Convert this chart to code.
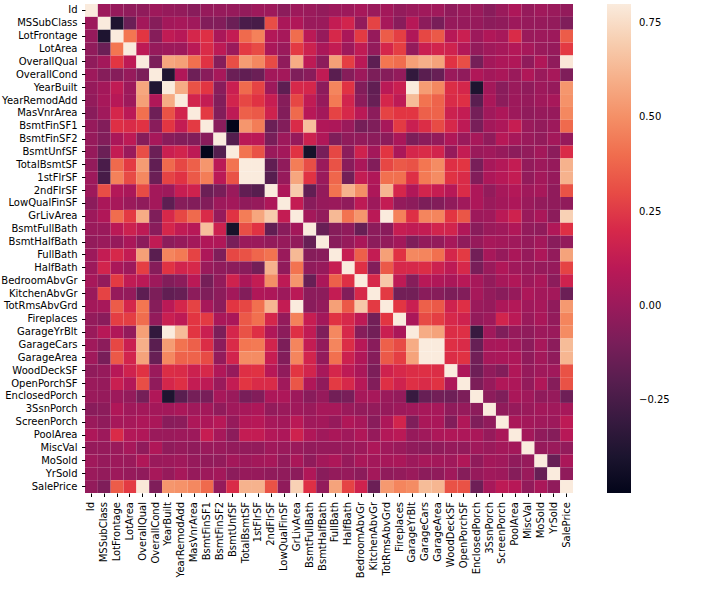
{"width":488,"height":489,"padding":{"left":85,"top":4,"right":138,"bottom":97},"autosize":{"type":"none"},"background":"white","config":{"view":{"stroke":null},"font":"DejaVu Sans"},"data":{"values":[
{"x":"Id","y":"Id","r":1},{"x":"MSSubClass","y":"Id","r":0.01},{"x":"LotFrontage","y":"Id","r":-0.01},{"x":"LotArea","y":"Id","r":-0.03},{"x":"OverallQual","y":"Id","r":-0.03},{"x":"OverallCond","y":"Id","r":0.01},{"x":"YearBuilt","y":"Id","r":-0.01},{"x":"YearRemodAdd","y":"Id","r":-0.02},{"x":"MasVnrArea","y":"Id","r":-0.05},{"x":"BsmtFinSF1","y":"Id","r":-0.01},{"x":"BsmtFinSF2","y":"Id","r":-0.01},{"x":"BsmtUnfSF","y":"Id","r":-0.01},{"x":"TotalBsmtSF","y":"Id","r":-0.02},{"x":"1stFlrSF","y":"Id","r":0.01},{"x":"2ndFlrSF","y":"Id","r":0.01},{"x":"LowQualFinSF","y":"Id","r":-0.04},{"x":"GrLivArea","y":"Id","r":0.01},{"x":"BsmtFullBath","y":"Id","r":0},{"x":"BsmtHalfBath","y":"Id","r":-0.02},{"x":"FullBath","y":"Id","r":0.01},{"x":"HalfBath","y":"Id","r":0.01},{"x":"BedroomAbvGr","y":"Id","r":0.04},{"x":"KitchenAbvGr","y":"Id","r":0},{"x":"TotRmsAbvGrd","y":"Id","r":0.03},{"x":"Fireplaces","y":"Id","r":-0.02},{"x":"GarageYrBlt","y":"Id","r":0},{"x":"GarageCars","y":"Id","r":0.02},{"x":"GarageArea","y":"Id","r":0.02},{"x":"WoodDeckSF","y":"Id","r":-0.03},{"x":"OpenPorchSF","y":"Id","r":0},{"x":"EnclosedPorch","y":"Id","r":0},{"x":"3SsnPorch","y":"Id","r":-0.05},{"x":"ScreenPorch","y":"Id","r":0},{"x":"PoolArea","y":"Id","r":0.06},{"x":"MiscVal","y":"Id","r":-0.01},{"x":"MoSold","y":"Id","r":0.02},{"x":"YrSold","y":"Id","r":0},{"x":"SalePrice","y":"Id","r":-0.02},
{"x":"Id","y":"MSSubClass","r":0.01},{"x":"MSSubClass","y":"MSSubClass","r":1},{"x":"LotFrontage","y":"MSSubClass","r":-0.39},{"x":"LotArea","y":"MSSubClass","r":-0.14},{"x":"OverallQual","y":"MSSubClass","r":0.03},{"x":"OverallCond","y":"MSSubClass","r":-0.06},{"x":"YearBuilt","y":"MSSubClass","r":0.03},{"x":"YearRemodAdd","y":"MSSubClass","r":0.04},{"x":"MasVnrArea","y":"MSSubClass","r":0.02},{"x":"BsmtFinSF1","y":"MSSubClass","r":-0.07},{"x":"BsmtFinSF2","y":"MSSubClass","r":-0.07},{"x":"BsmtUnfSF","y":"MSSubClass","r":-0.14},{"x":"TotalBsmtSF","y":"MSSubClass","r":-0.24},{"x":"1stFlrSF","y":"MSSubClass","r":-0.25},{"x":"2ndFlrSF","y":"MSSubClass","r":0.31},{"x":"LowQualFinSF","y":"MSSubClass","r":0.05},{"x":"GrLivArea","y":"MSSubClass","r":0.07},{"x":"BsmtFullBath","y":"MSSubClass","r":0},{"x":"BsmtHalfBath","y":"MSSubClass","r":0},{"x":"FullBath","y":"MSSubClass","r":0.13},{"x":"HalfBath","y":"MSSubClass","r":0.18},{"x":"BedroomAbvGr","y":"MSSubClass","r":-0.02},{"x":"KitchenAbvGr","y":"MSSubClass","r":0.28},{"x":"TotRmsAbvGrd","y":"MSSubClass","r":0.04},{"x":"Fireplaces","y":"MSSubClass","r":-0.05},{"x":"GarageYrBlt","y":"MSSubClass","r":0.09},{"x":"GarageCars","y":"MSSubClass","r":-0.04},{"x":"GarageArea","y":"MSSubClass","r":-0.1},{"x":"WoodDeckSF","y":"MSSubClass","r":-0.01},{"x":"OpenPorchSF","y":"MSSubClass","r":-0.01},{"x":"EnclosedPorch","y":"MSSubClass","r":-0.01},{"x":"3SsnPorch","y":"MSSubClass","r":-0.04},{"x":"ScreenPorch","y":"MSSubClass","r":-0.03},{"x":"PoolArea","y":"MSSubClass","r":0.01},{"x":"MiscVal","y":"MSSubClass","r":-0.01},{"x":"MoSold","y":"MSSubClass","r":-0.01},{"x":"YrSold","y":"MSSubClass","r":-0.02},{"x":"SalePrice","y":"MSSubClass","r":-0.08},
{"x":"Id","y":"LotFrontage","r":-0.01},{"x":"MSSubClass","y":"LotFrontage","r":-0.39},{"x":"LotFrontage","y":"LotFrontage","r":1},{"x":"LotArea","y":"LotFrontage","r":0.43},{"x":"OverallQual","y":"LotFrontage","r":0.25},{"x":"OverallCond","y":"LotFrontage","r":-0.06},{"x":"YearBuilt","y":"LotFrontage","r":0.12},{"x":"YearRemodAdd","y":"LotFrontage","r":0.09},{"x":"MasVnrArea","y":"LotFrontage","r":0.19},{"x":"BsmtFinSF1","y":"LotFrontage","r":0.23},{"x":"BsmtFinSF2","y":"LotFrontage","r":0.05},{"x":"BsmtUnfSF","y":"LotFrontage","r":0.13},{"x":"TotalBsmtSF","y":"LotFrontage","r":0.39},{"x":"1stFlrSF","y":"LotFrontage","r":0.46},{"x":"2ndFlrSF","y":"LotFrontage","r":0.08},{"x":"LowQualFinSF","y":"LotFrontage","r":0.04},{"x":"GrLivArea","y":"LotFrontage","r":0.4},{"x":"BsmtFullBath","y":"LotFrontage","r":0.1},{"x":"BsmtHalfBath","y":"LotFrontage","r":-0.01},{"x":"FullBath","y":"LotFrontage","r":0.2},{"x":"HalfBath","y":"LotFrontage","r":0.05},{"x":"BedroomAbvGr","y":"LotFrontage","r":0.26},{"x":"KitchenAbvGr","y":"LotFrontage","r":-0.01},{"x":"TotRmsAbvGrd","y":"LotFrontage","r":0.35},{"x":"Fireplaces","y":"LotFrontage","r":0.27},{"x":"GarageYrBlt","y":"LotFrontage","r":0.07},{"x":"GarageCars","y":"LotFrontage","r":0.29},{"x":"GarageArea","y":"LotFrontage","r":0.34},{"x":"WoodDeckSF","y":"LotFrontage","r":0.09},{"x":"OpenPorchSF","y":"LotFrontage","r":0.15},{"x":"EnclosedPorch","y":"LotFrontage","r":0.01},{"x":"3SsnPorch","y":"LotFrontage","r":0.07},{"x":"ScreenPorch","y":"LotFrontage","r":0.04},{"x":"PoolArea","y":"LotFrontage","r":0.21},{"x":"MiscVal","y":"LotFrontage","r":0},{"x":"MoSold","y":"LotFrontage","r":0.01},{"x":"YrSold","y":"LotFrontage","r":0.01},{"x":"SalePrice","y":"LotFrontage","r":0.35},
{"x":"Id","y":"LotArea","r":-0.03},{"x":"MSSubClass","y":"LotArea","r":-0.14},{"x":"LotFrontage","y":"LotArea","r":0.43},{"x":"LotArea","y":"LotArea","r":1},{"x":"OverallQual","y":"LotArea","r":0.11},{"x":"OverallCond","y":"LotArea","r":-0.01},{"x":"YearBuilt","y":"LotArea","r":0.01},{"x":"YearRemodAdd","y":"LotArea","r":0.01},{"x":"MasVnrArea","y":"LotArea","r":0.1},{"x":"BsmtFinSF1","y":"LotArea","r":0.21},{"x":"BsmtFinSF2","y":"LotArea","r":0.11},{"x":"BsmtUnfSF","y":"LotArea","r":0},{"x":"TotalBsmtSF","y":"LotArea","r":0.26},{"x":"1stFlrSF","y":"LotArea","r":0.3},{"x":"2ndFlrSF","y":"LotArea","r":0.05},{"x":"LowQualFinSF","y":"LotArea","r":0},{"x":"GrLivArea","y":"LotArea","r":0.26},{"x":"BsmtFullBath","y":"LotArea","r":0.16},{"x":"BsmtHalfBath","y":"LotArea","r":0.05},{"x":"FullBath","y":"LotArea","r":0.13},{"x":"HalfBath","y":"LotArea","r":0.01},{"x":"BedroomAbvGr","y":"LotArea","r":0.12},{"x":"KitchenAbvGr","y":"LotArea","r":-0.02},{"x":"TotRmsAbvGrd","y":"LotArea","r":0.19},{"x":"Fireplaces","y":"LotArea","r":0.27},{"x":"GarageYrBlt","y":"LotArea","r":-0.02},{"x":"GarageCars","y":"LotArea","r":0.15},{"x":"GarageArea","y":"LotArea","r":0.18},{"x":"WoodDeckSF","y":"LotArea","r":0.17},{"x":"OpenPorchSF","y":"LotArea","r":0.08},{"x":"EnclosedPorch","y":"LotArea","r":-0.02},{"x":"3SsnPorch","y":"LotArea","r":0.02},{"x":"ScreenPorch","y":"LotArea","r":0.04},{"x":"PoolArea","y":"LotArea","r":0.08},{"x":"MiscVal","y":"LotArea","r":0.04},{"x":"MoSold","y":"LotArea","r":0},{"x":"YrSold","y":"LotArea","r":-0.01},{"x":"SalePrice","y":"LotArea","r":0.26},
{"x":"Id","y":"OverallQual","r":-0.03},{"x":"MSSubClass","y":"OverallQual","r":0.03},{"x":"LotFrontage","y":"OverallQual","r":0.25},{"x":"LotArea","y":"OverallQual","r":0.11},{"x":"OverallQual","y":"OverallQual","r":1},{"x":"OverallCond","y":"OverallQual","r":-0.09},{"x":"YearBuilt","y":"OverallQual","r":0.57},{"x":"YearRemodAdd","y":"OverallQual","r":0.55},{"x":"MasVnrArea","y":"OverallQual","r":0.41},{"x":"BsmtFinSF1","y":"OverallQual","r":0.24},{"x":"BsmtFinSF2","y":"OverallQual","r":-0.06},{"x":"BsmtUnfSF","y":"OverallQual","r":0.31},{"x":"TotalBsmtSF","y":"OverallQual","r":0.54},{"x":"1stFlrSF","y":"OverallQual","r":0.48},{"x":"2ndFlrSF","y":"OverallQual","r":0.3},{"x":"LowQualFinSF","y":"OverallQual","r":-0.03},{"x":"GrLivArea","y":"OverallQual","r":0.59},{"x":"BsmtFullBath","y":"OverallQual","r":0.11},{"x":"BsmtHalfBath","y":"OverallQual","r":-0.04},{"x":"FullBath","y":"OverallQual","r":0.55},{"x":"HalfBath","y":"OverallQual","r":0.27},{"x":"BedroomAbvGr","y":"OverallQual","r":0.1},{"x":"KitchenAbvGr","y":"OverallQual","r":-0.18},{"x":"TotRmsAbvGrd","y":"OverallQual","r":0.43},{"x":"Fireplaces","y":"OverallQual","r":0.4},{"x":"GarageYrBlt","y":"OverallQual","r":0.55},{"x":"GarageCars","y":"OverallQual","r":0.6},{"x":"GarageArea","y":"OverallQual","r":0.56},{"x":"WoodDeckSF","y":"OverallQual","r":0.24},{"x":"OpenPorchSF","y":"OverallQual","r":0.31},{"x":"EnclosedPorch","y":"OverallQual","r":-0.11},{"x":"3SsnPorch","y":"OverallQual","r":0.03},{"x":"ScreenPorch","y":"OverallQual","r":0.06},{"x":"PoolArea","y":"OverallQual","r":0.07},{"x":"MiscVal","y":"OverallQual","r":-0.03},{"x":"MoSold","y":"OverallQual","r":0.07},{"x":"YrSold","y":"OverallQual","r":-0.03},{"x":"SalePrice","y":"OverallQual","r":0.79},
{"x":"Id","y":"OverallCond","r":0.01},{"x":"MSSubClass","y":"OverallCond","r":-0.06},{"x":"LotFrontage","y":"OverallCond","r":-0.06},{"x":"LotArea","y":"OverallCond","r":-0.01},{"x":"OverallQual","y":"OverallCond","r":-0.09},{"x":"OverallCond","y":"OverallCond","r":1},{"x":"YearBuilt","y":"OverallCond","r":-0.38},{"x":"YearRemodAdd","y":"OverallCond","r":0.07},{"x":"MasVnrArea","y":"OverallCond","r":-0.13},{"x":"BsmtFinSF1","y":"OverallCond","r":-0.05},{"x":"BsmtFinSF2","y":"OverallCond","r":0.04},{"x":"BsmtUnfSF","y":"OverallCond","r":-0.14},{"x":"TotalBsmtSF","y":"OverallCond","r":-0.17},{"x":"1stFlrSF","y":"OverallCond","r":-0.14},{"x":"2ndFlrSF","y":"OverallCond","r":0.03},{"x":"LowQualFinSF","y":"OverallCond","r":0.03},{"x":"GrLivArea","y":"OverallCond","r":-0.08},{"x":"BsmtFullBath","y":"OverallCond","r":-0.05},{"x":"BsmtHalfBath","y":"OverallCond","r":0.12},{"x":"FullBath","y":"OverallCond","r":-0.19},{"x":"HalfBath","y":"OverallCond","r":-0.06},{"x":"BedroomAbvGr","y":"OverallCond","r":0.01},{"x":"KitchenAbvGr","y":"OverallCond","r":-0.09},{"x":"TotRmsAbvGrd","y":"OverallCond","r":-0.06},{"x":"Fireplaces","y":"OverallCond","r":-0.02},{"x":"GarageYrBlt","y":"OverallCond","r":-0.32},{"x":"GarageCars","y":"OverallCond","r":-0.19},{"x":"GarageArea","y":"OverallCond","r":-0.15},{"x":"WoodDeckSF","y":"OverallCond","r":0},{"x":"OpenPorchSF","y":"OverallCond","r":-0.03},{"x":"EnclosedPorch","y":"OverallCond","r":0.07},{"x":"3SsnPorch","y":"OverallCond","r":0.03},{"x":"ScreenPorch","y":"OverallCond","r":0.05},{"x":"PoolArea","y":"OverallCond","r":0},{"x":"MiscVal","y":"OverallCond","r":0.07},{"x":"MoSold","y":"OverallCond","r":0},{"x":"YrSold","y":"OverallCond","r":0.04},{"x":"SalePrice","y":"OverallCond","r":-0.08},
{"x":"Id","y":"YearBuilt","r":-0.01},{"x":"MSSubClass","y":"YearBuilt","r":0.03},{"x":"LotFrontage","y":"YearBuilt","r":0.12},{"x":"LotArea","y":"YearBuilt","r":0.01},{"x":"OverallQual","y":"YearBuilt","r":0.57},{"x":"OverallCond","y":"YearBuilt","r":-0.38},{"x":"YearBuilt","y":"YearBuilt","r":1},{"x":"YearRemodAdd","y":"YearBuilt","r":0.59},{"x":"MasVnrArea","y":"YearBuilt","r":0.32},{"x":"BsmtFinSF1","y":"YearBuilt","r":0.25},{"x":"BsmtFinSF2","y":"YearBuilt","r":-0.05},{"x":"BsmtUnfSF","y":"YearBuilt","r":0.15},{"x":"TotalBsmtSF","y":"YearBuilt","r":0.39},{"x":"1stFlrSF","y":"YearBuilt","r":0.28},{"x":"2ndFlrSF","y":"YearBuilt","r":0.01},{"x":"LowQualFinSF","y":"YearBuilt","r":-0.18},{"x":"GrLivArea","y":"YearBuilt","r":0.2},{"x":"BsmtFullBath","y":"YearBuilt","r":0.19},{"x":"BsmtHalfBath","y":"YearBuilt","r":-0.04},{"x":"FullBath","y":"YearBuilt","r":0.47},{"x":"HalfBath","y":"YearBuilt","r":0.24},{"x":"BedroomAbvGr","y":"YearBuilt","r":-0.07},{"x":"KitchenAbvGr","y":"YearBuilt","r":-0.17},{"x":"TotRmsAbvGrd","y":"YearBuilt","r":0.1},{"x":"Fireplaces","y":"YearBuilt","r":0.15},{"x":"GarageYrBlt","y":"YearBuilt","r":0.83},{"x":"GarageCars","y":"YearBuilt","r":0.54},{"x":"GarageArea","y":"YearBuilt","r":0.48},{"x":"WoodDeckSF","y":"YearBuilt","r":0.22},{"x":"OpenPorchSF","y":"YearBuilt","r":0.19},{"x":"EnclosedPorch","y":"YearBuilt","r":-0.39},{"x":"3SsnPorch","y":"YearBuilt","r":0.03},{"x":"ScreenPorch","y":"YearBuilt","r":-0.05},{"x":"PoolArea","y":"YearBuilt","r":0},{"x":"MiscVal","y":"YearBuilt","r":-0.03},{"x":"MoSold","y":"YearBuilt","r":0.01},{"x":"YrSold","y":"YearBuilt","r":-0.01},{"x":"SalePrice","y":"YearBuilt","r":0.52},
{"x":"Id","y":"YearRemodAdd","r":-0.02},{"x":"MSSubClass","y":"YearRemodAdd","r":0.04},{"x":"LotFrontage","y":"YearRemodAdd","r":0.09},{"x":"LotArea","y":"YearRemodAdd","r":0.01},{"x":"OverallQual","y":"YearRemodAdd","r":0.55},{"x":"OverallCond","y":"YearRemodAdd","r":0.07},{"x":"YearBuilt","y":"YearRemodAdd","r":0.59},{"x":"YearRemodAdd","y":"YearRemodAdd","r":1},{"x":"MasVnrArea","y":"YearRemodAdd","r":0.18},{"x":"BsmtFinSF1","y":"YearRemodAdd","r":0.13},{"x":"BsmtFinSF2","y":"YearRemodAdd","r":-0.07},{"x":"BsmtUnfSF","y":"YearRemodAdd","r":0.18},{"x":"TotalBsmtSF","y":"YearRemodAdd","r":0.29},{"x":"1stFlrSF","y":"YearRemodAdd","r":0.24},{"x":"2ndFlrSF","y":"YearRemodAdd","r":0.14},{"x":"LowQualFinSF","y":"YearRemodAdd","r":-0.06},{"x":"GrLivArea","y":"YearRemodAdd","r":0.29},{"x":"BsmtFullBath","y":"YearRemodAdd","r":0.12},{"x":"BsmtHalfBath","y":"YearRemodAdd","r":-0.01},{"x":"FullBath","y":"YearRemodAdd","r":0.44},{"x":"HalfBath","y":"YearRemodAdd","r":0.18},{"x":"BedroomAbvGr","y":"YearRemodAdd","r":-0.04},{"x":"KitchenAbvGr","y":"YearRemodAdd","r":-0.15},{"x":"TotRmsAbvGrd","y":"YearRemodAdd","r":0.19},{"x":"Fireplaces","y":"YearRemodAdd","r":0.11},{"x":"GarageYrBlt","y":"YearRemodAdd","r":0.64},{"x":"GarageCars","y":"YearRemodAdd","r":0.42},{"x":"GarageArea","y":"YearRemodAdd","r":0.37},{"x":"WoodDeckSF","y":"YearRemodAdd","r":0.21},{"x":"OpenPorchSF","y":"YearRemodAdd","r":0.23},{"x":"EnclosedPorch","y":"YearRemodAdd","r":-0.19},{"x":"3SsnPorch","y":"YearRemodAdd","r":0.05},{"x":"ScreenPorch","y":"YearRemodAdd","r":-0.04},{"x":"PoolArea","y":"YearRemodAdd","r":0.01},{"x":"MiscVal","y":"YearRemodAdd","r":-0.01},{"x":"MoSold","y":"YearRemodAdd","r":0.02},{"x":"YrSold","y":"YearRemodAdd","r":0.04},{"x":"SalePrice","y":"YearRemodAdd","r":0.51},
{"x":"Id","y":"MasVnrArea","r":-0.05},{"x":"MSSubClass","y":"MasVnrArea","r":0.02},{"x":"LotFrontage","y":"MasVnrArea","r":0.19},{"x":"LotArea","y":"MasVnrArea","r":0.1},{"x":"OverallQual","y":"MasVnrArea","r":0.41},{"x":"OverallCond","y":"MasVnrArea","r":-0.13},{"x":"YearBuilt","y":"MasVnrArea","r":0.32},{"x":"YearRemodAdd","y":"MasVnrArea","r":0.18},{"x":"MasVnrArea","y":"MasVnrArea","r":1},{"x":"BsmtFinSF1","y":"MasVnrArea","r":0.26},{"x":"BsmtFinSF2","y":"MasVnrArea","r":-0.07},{"x":"BsmtUnfSF","y":"MasVnrArea","r":0.11},{"x":"TotalBsmtSF","y":"MasVnrArea","r":0.36},{"x":"1stFlrSF","y":"MasVnrArea","r":0.34},{"x":"2ndFlrSF","y":"MasVnrArea","r":0.17},{"x":"LowQualFinSF","y":"MasVnrArea","r":-0.07},{"x":"GrLivArea","y":"MasVnrArea","r":0.39},{"x":"BsmtFullBath","y":"MasVnrArea","r":0.09},{"x":"BsmtHalfBath","y":"MasVnrArea","r":0.03},{"x":"FullBath","y":"MasVnrArea","r":0.28},{"x":"HalfBath","y":"MasVnrArea","r":0.2},{"x":"BedroomAbvGr","y":"MasVnrArea","r":0.1},{"x":"KitchenAbvGr","y":"MasVnrArea","r":-0.04},{"x":"TotRmsAbvGrd","y":"MasVnrArea","r":0.28},{"x":"Fireplaces","y":"MasVnrArea","r":0.25},{"x":"GarageYrBlt","y":"MasVnrArea","r":0.25},{"x":"GarageCars","y":"MasVnrArea","r":0.36},{"x":"GarageArea","y":"MasVnrArea","r":0.37},{"x":"WoodDeckSF","y":"MasVnrArea","r":0.16},{"x":"OpenPorchSF","y":"MasVnrArea","r":0.13},{"x":"EnclosedPorch","y":"MasVnrArea","r":-0.11},{"x":"3SsnPorch","y":"MasVnrArea","r":0.02},{"x":"ScreenPorch","y":"MasVnrArea","r":0.06},{"x":"PoolArea","y":"MasVnrArea","r":0.01},{"x":"MiscVal","y":"MasVnrArea","r":-0.03},{"x":"MoSold","y":"MasVnrArea","r":-0.01},{"x":"YrSold","y":"MasVnrArea","r":-0.01},{"x":"SalePrice","y":"MasVnrArea","r":0.48},
{"x":"Id","y":"BsmtFinSF1","r":-0.01},{"x":"MSSubClass","y":"BsmtFinSF1","r":-0.07},{"x":"LotFrontage","y":"BsmtFinSF1","r":0.23},{"x":"LotArea","y":"BsmtFinSF1","r":0.21},{"x":"OverallQual","y":"BsmtFinSF1","r":0.24},{"x":"OverallCond","y":"BsmtFinSF1","r":-0.05},{"x":"YearBuilt","y":"BsmtFinSF1","r":0.25},{"x":"YearRemodAdd","y":"BsmtFinSF1","r":0.13},{"x":"MasVnrArea","y":"BsmtFinSF1","r":0.26},{"x":"BsmtFinSF1","y":"BsmtFinSF1","r":1},{"x":"BsmtFinSF2","y":"BsmtFinSF1","r":-0.05},{"x":"BsmtUnfSF","y":"BsmtFinSF1","r":-0.5},{"x":"TotalBsmtSF","y":"BsmtFinSF1","r":0.52},{"x":"1stFlrSF","y":"BsmtFinSF1","r":0.45},{"x":"2ndFlrSF","y":"BsmtFinSF1","r":-0.14},{"x":"LowQualFinSF","y":"BsmtFinSF1","r":-0.07},{"x":"GrLivArea","y":"BsmtFinSF1","r":0.21},{"x":"BsmtFullBath","y":"BsmtFinSF1","r":0.65},{"x":"BsmtHalfBath","y":"BsmtFinSF1","r":0.07},{"x":"FullBath","y":"BsmtFinSF1","r":0.06},{"x":"HalfBath","y":"BsmtFinSF1","r":0},{"x":"BedroomAbvGr","y":"BsmtFinSF1","r":-0.11},{"x":"KitchenAbvGr","y":"BsmtFinSF1","r":-0.08},{"x":"TotRmsAbvGrd","y":"BsmtFinSF1","r":0.04},{"x":"Fireplaces","y":"BsmtFinSF1","r":0.26},{"x":"GarageYrBlt","y":"BsmtFinSF1","r":0.15},{"x":"GarageCars","y":"BsmtFinSF1","r":0.22},{"x":"GarageArea","y":"BsmtFinSF1","r":0.3},{"x":"WoodDeckSF","y":"BsmtFinSF1","r":0.2},{"x":"OpenPorchSF","y":"BsmtFinSF1","r":0.11},{"x":"EnclosedPorch","y":"BsmtFinSF1","r":-0.1},{"x":"3SsnPorch","y":"BsmtFinSF1","r":0.03},{"x":"ScreenPorch","y":"BsmtFinSF1","r":0.06},{"x":"PoolArea","y":"BsmtFinSF1","r":0.14},{"x":"MiscVal","y":"BsmtFinSF1","r":0},{"x":"MoSold","y":"BsmtFinSF1","r":-0.02},{"x":"YrSold","y":"BsmtFinSF1","r":0.01},{"x":"SalePrice","y":"BsmtFinSF1","r":0.39},
{"x":"Id","y":"BsmtFinSF2","r":-0.01},{"x":"MSSubClass","y":"BsmtFinSF2","r":-0.07},{"x":"LotFrontage","y":"BsmtFinSF2","r":0.05},{"x":"LotArea","y":"BsmtFinSF2","r":0.11},{"x":"OverallQual","y":"BsmtFinSF2","r":-0.06},{"x":"OverallCond","y":"BsmtFinSF2","r":0.04},{"x":"YearBuilt","y":"BsmtFinSF2","r":-0.05},{"x":"YearRemodAdd","y":"BsmtFinSF2","r":-0.07},{"x":"MasVnrArea","y":"BsmtFinSF2","r":-0.07},{"x":"BsmtFinSF1","y":"BsmtFinSF2","r":-0.05},{"x":"BsmtFinSF2","y":"BsmtFinSF2","r":1},{"x":"BsmtUnfSF","y":"BsmtFinSF2","r":-0.21},{"x":"TotalBsmtSF","y":"BsmtFinSF2","r":0.1},{"x":"1stFlrSF","y":"BsmtFinSF2","r":0.1},{"x":"2ndFlrSF","y":"BsmtFinSF2","r":-0.1},{"x":"LowQualFinSF","y":"BsmtFinSF2","r":0.01},{"x":"GrLivArea","y":"BsmtFinSF2","r":-0.01},{"x":"BsmtFullBath","y":"BsmtFinSF2","r":0.16},{"x":"BsmtHalfBath","y":"BsmtFinSF2","r":0.07},{"x":"FullBath","y":"BsmtFinSF2","r":-0.08},{"x":"HalfBath","y":"BsmtFinSF2","r":-0.03},{"x":"BedroomAbvGr","y":"BsmtFinSF2","r":-0.02},{"x":"KitchenAbvGr","y":"BsmtFinSF2","r":-0.04},{"x":"TotRmsAbvGrd","y":"BsmtFinSF2","r":-0.04},{"x":"Fireplaces","y":"BsmtFinSF2","r":0.05},{"x":"GarageYrBlt","y":"BsmtFinSF2","r":-0.09},{"x":"GarageCars","y":"BsmtFinSF2","r":-0.04},{"x":"GarageArea","y":"BsmtFinSF2","r":-0.02},{"x":"WoodDeckSF","y":"BsmtFinSF2","r":0.07},{"x":"OpenPorchSF","y":"BsmtFinSF2","r":0},{"x":"EnclosedPorch","y":"BsmtFinSF2","r":0.04},{"x":"3SsnPorch","y":"BsmtFinSF2","r":-0.03},{"x":"ScreenPorch","y":"BsmtFinSF2","r":0.09},{"x":"PoolArea","y":"BsmtFinSF2","r":0.04},{"x":"MiscVal","y":"BsmtFinSF2","r":0},{"x":"MoSold","y":"BsmtFinSF2","r":-0.02},{"x":"YrSold","y":"BsmtFinSF2","r":0.03},{"x":"SalePrice","y":"BsmtFinSF2","r":-0.01},
{"x":"Id","y":"BsmtUnfSF","r":-0.01},{"x":"MSSubClass","y":"BsmtUnfSF","r":-0.14},{"x":"LotFrontage","y":"BsmtUnfSF","r":0.13},{"x":"LotArea","y":"BsmtUnfSF","r":0},{"x":"OverallQual","y":"BsmtUnfSF","r":0.31},{"x":"OverallCond","y":"BsmtUnfSF","r":-0.14},{"x":"YearBuilt","y":"BsmtUnfSF","r":0.15},{"x":"YearRemodAdd","y":"BsmtUnfSF","r":0.18},{"x":"MasVnrArea","y":"BsmtUnfSF","r":0.11},{"x":"BsmtFinSF1","y":"BsmtUnfSF","r":-0.5},{"x":"BsmtFinSF2","y":"BsmtUnfSF","r":-0.21},{"x":"BsmtUnfSF","y":"BsmtUnfSF","r":1},{"x":"TotalBsmtSF","y":"BsmtUnfSF","r":0.42},{"x":"1stFlrSF","y":"BsmtUnfSF","r":0.32},{"x":"2ndFlrSF","y":"BsmtUnfSF","r":0},{"x":"LowQualFinSF","y":"BsmtUnfSF","r":0.03},{"x":"GrLivArea","y":"BsmtUnfSF","r":0.24},{"x":"BsmtFullBath","y":"BsmtUnfSF","r":-0.42},{"x":"BsmtHalfBath","y":"BsmtUnfSF","r":-0.1},{"x":"FullBath","y":"BsmtUnfSF","r":0.29},{"x":"HalfBath","y":"BsmtUnfSF","r":-0.04},{"x":"BedroomAbvGr","y":"BsmtUnfSF","r":0.17},{"x":"KitchenAbvGr","y":"BsmtUnfSF","r":0.03},{"x":"TotRmsAbvGrd","y":"BsmtUnfSF","r":0.25},{"x":"Fireplaces","y":"BsmtUnfSF","r":0.05},{"x":"GarageYrBlt","y":"BsmtUnfSF","r":0.19},{"x":"GarageCars","y":"BsmtUnfSF","r":0.21},{"x":"GarageArea","y":"BsmtUnfSF","r":0.18},{"x":"WoodDeckSF","y":"BsmtUnfSF","r":-0.01},{"x":"OpenPorchSF","y":"BsmtUnfSF","r":0.13},{"x":"EnclosedPorch","y":"BsmtUnfSF","r":0},{"x":"3SsnPorch","y":"BsmtUnfSF","r":0.02},{"x":"ScreenPorch","y":"BsmtUnfSF","r":-0.01},{"x":"PoolArea","y":"BsmtUnfSF","r":-0.04},{"x":"MiscVal","y":"BsmtUnfSF","r":-0.02},{"x":"MoSold","y":"BsmtUnfSF","r":0.03},{"x":"YrSold","y":"BsmtUnfSF","r":-0.04},{"x":"SalePrice","y":"BsmtUnfSF","r":0.21},
{"x":"Id","y":"TotalBsmtSF","r":-0.02},{"x":"MSSubClass","y":"TotalBsmtSF","r":-0.24},{"x":"LotFrontage","y":"TotalBsmtSF","r":0.39},{"x":"LotArea","y":"TotalBsmtSF","r":0.26},{"x":"OverallQual","y":"TotalBsmtSF","r":0.54},{"x":"OverallCond","y":"TotalBsmtSF","r":-0.17},{"x":"YearBuilt","y":"TotalBsmtSF","r":0.39},{"x":"YearRemodAdd","y":"TotalBsmtSF","r":0.29},{"x":"MasVnrArea","y":"TotalBsmtSF","r":0.36},{"x":"BsmtFinSF1","y":"TotalBsmtSF","r":0.52},{"x":"BsmtFinSF2","y":"TotalBsmtSF","r":0.1},{"x":"BsmtUnfSF","y":"TotalBsmtSF","r":0.42},{"x":"TotalBsmtSF","y":"TotalBsmtSF","r":1},{"x":"1stFlrSF","y":"TotalBsmtSF","r":0.82},{"x":"2ndFlrSF","y":"TotalBsmtSF","r":-0.17},{"x":"LowQualFinSF","y":"TotalBsmtSF","r":-0.03},{"x":"GrLivArea","y":"TotalBsmtSF","r":0.45},{"x":"BsmtFullBath","y":"TotalBsmtSF","r":0.31},{"x":"BsmtHalfBath","y":"TotalBsmtSF","r":0},{"x":"FullBath","y":"TotalBsmtSF","r":0.32},{"x":"HalfBath","y":"TotalBsmtSF","r":-0.05},{"x":"BedroomAbvGr","y":"TotalBsmtSF","r":0.05},{"x":"KitchenAbvGr","y":"TotalBsmtSF","r":-0.07},{"x":"TotRmsAbvGrd","y":"TotalBsmtSF","r":0.29},{"x":"Fireplaces","y":"TotalBsmtSF","r":0.34},{"x":"GarageYrBlt","y":"TotalBsmtSF","r":0.32},{"x":"GarageCars","y":"TotalBsmtSF","r":0.43},{"x":"GarageArea","y":"TotalBsmtSF","r":0.49},{"x":"WoodDeckSF","y":"TotalBsmtSF","r":0.23},{"x":"OpenPorchSF","y":"TotalBsmtSF","r":0.25},{"x":"EnclosedPorch","y":"TotalBsmtSF","r":-0.1},{"x":"3SsnPorch","y":"TotalBsmtSF","r":0.04},{"x":"ScreenPorch","y":"TotalBsmtSF","r":0.08},{"x":"PoolArea","y":"TotalBsmtSF","r":0.13},{"x":"MiscVal","y":"TotalBsmtSF","r":-0.02},{"x":"MoSold","y":"TotalBsmtSF","r":0.01},{"x":"YrSold","y":"TotalBsmtSF","r":-0.01},{"x":"SalePrice","y":"TotalBsmtSF","r":0.61},
{"x":"Id","y":"1stFlrSF","r":0.01},{"x":"MSSubClass","y":"1stFlrSF","r":-0.25},{"x":"LotFrontage","y":"1stFlrSF","r":0.46},{"x":"LotArea","y":"1stFlrSF","r":0.3},{"x":"OverallQual","y":"1stFlrSF","r":0.48},{"x":"OverallCond","y":"1stFlrSF","r":-0.14},{"x":"YearBuilt","y":"1stFlrSF","r":0.28},{"x":"YearRemodAdd","y":"1stFlrSF","r":0.24},{"x":"MasVnrArea","y":"1stFlrSF","r":0.34},{"x":"BsmtFinSF1","y":"1stFlrSF","r":0.45},{"x":"BsmtFinSF2","y":"1stFlrSF","r":0.1},{"x":"BsmtUnfSF","y":"1stFlrSF","r":0.32},{"x":"TotalBsmtSF","y":"1stFlrSF","r":0.82},{"x":"1stFlrSF","y":"1stFlrSF","r":1},{"x":"2ndFlrSF","y":"1stFlrSF","r":-0.2},{"x":"LowQualFinSF","y":"1stFlrSF","r":-0.01},{"x":"GrLivArea","y":"1stFlrSF","r":0.57},{"x":"BsmtFullBath","y":"1stFlrSF","r":0.24},{"x":"BsmtHalfBath","y":"1stFlrSF","r":0},{"x":"FullBath","y":"1stFlrSF","r":0.38},{"x":"HalfBath","y":"1stFlrSF","r":-0.12},{"x":"BedroomAbvGr","y":"1stFlrSF","r":0.13},{"x":"KitchenAbvGr","y":"1stFlrSF","r":0.07},{"x":"TotRmsAbvGrd","y":"1stFlrSF","r":0.41},{"x":"Fireplaces","y":"1stFlrSF","r":0.41},{"x":"GarageYrBlt","y":"1stFlrSF","r":0.23},{"x":"GarageCars","y":"1stFlrSF","r":0.44},{"x":"GarageArea","y":"1stFlrSF","r":0.49},{"x":"WoodDeckSF","y":"1stFlrSF","r":0.24},{"x":"OpenPorchSF","y":"1stFlrSF","r":0.21},{"x":"EnclosedPorch","y":"1stFlrSF","r":-0.07},{"x":"3SsnPorch","y":"1stFlrSF","r":0.06},{"x":"ScreenPorch","y":"1stFlrSF","r":0.09},{"x":"PoolArea","y":"1stFlrSF","r":0.13},{"x":"MiscVal","y":"1stFlrSF","r":-0.02},{"x":"MoSold","y":"1stFlrSF","r":0.03},{"x":"YrSold","y":"1stFlrSF","r":-0.01},{"x":"SalePrice","y":"1stFlrSF","r":0.61},
{"x":"Id","y":"2ndFlrSF","r":0.01},{"x":"MSSubClass","y":"2ndFlrSF","r":0.31},{"x":"LotFrontage","y":"2ndFlrSF","r":0.08},{"x":"LotArea","y":"2ndFlrSF","r":0.05},{"x":"OverallQual","y":"2ndFlrSF","r":0.3},{"x":"OverallCond","y":"2ndFlrSF","r":0.03},{"x":"YearBuilt","y":"2ndFlrSF","r":0.01},{"x":"YearRemodAdd","y":"2ndFlrSF","r":0.14},{"x":"MasVnrArea","y":"2ndFlrSF","r":0.17},{"x":"BsmtFinSF1","y":"2ndFlrSF","r":-0.14},{"x":"BsmtFinSF2","y":"2ndFlrSF","r":-0.1},{"x":"BsmtUnfSF","y":"2ndFlrSF","r":0},{"x":"TotalBsmtSF","y":"2ndFlrSF","r":-0.17},{"x":"1stFlrSF","y":"2ndFlrSF","r":-0.2},{"x":"2ndFlrSF","y":"2ndFlrSF","r":1},{"x":"LowQualFinSF","y":"2ndFlrSF","r":0.06},{"x":"GrLivArea","y":"2ndFlrSF","r":0.69},{"x":"BsmtFullBath","y":"2ndFlrSF","r":-0.17},{"x":"BsmtHalfBath","y":"2ndFlrSF","r":-0.02},{"x":"FullBath","y":"2ndFlrSF","r":0.42},{"x":"HalfBath","y":"2ndFlrSF","r":0.61},{"x":"BedroomAbvGr","y":"2ndFlrSF","r":0.5},{"x":"KitchenAbvGr","y":"2ndFlrSF","r":0.06},{"x":"TotRmsAbvGrd","y":"2ndFlrSF","r":0.62},{"x":"Fireplaces","y":"2ndFlrSF","r":0.19},{"x":"GarageYrBlt","y":"2ndFlrSF","r":0.07},{"x":"GarageCars","y":"2ndFlrSF","r":0.18},{"x":"GarageArea","y":"2ndFlrSF","r":0.14},{"x":"WoodDeckSF","y":"2ndFlrSF","r":0.09},{"x":"OpenPorchSF","y":"2ndFlrSF","r":0.21},{"x":"EnclosedPorch","y":"2ndFlrSF","r":0.06},{"x":"3SsnPorch","y":"2ndFlrSF","r":-0.02},{"x":"ScreenPorch","y":"2ndFlrSF","r":0.04},{"x":"PoolArea","y":"2ndFlrSF","r":0.08},{"x":"MiscVal","y":"2ndFlrSF","r":0.02},{"x":"MoSold","y":"2ndFlrSF","r":0.04},{"x":"YrSold","y":"2ndFlrSF","r":-0.03},{"x":"SalePrice","y":"2ndFlrSF","r":0.32},
{"x":"Id","y":"LowQualFinSF","r":-0.04},{"x":"MSSubClass","y":"LowQualFinSF","r":0.05},{"x":"LotFrontage","y":"LowQualFinSF","r":0.04},{"x":"LotArea","y":"LowQualFinSF","r":0},{"x":"OverallQual","y":"LowQualFinSF","r":-0.03},{"x":"OverallCond","y":"LowQualFinSF","r":0.03},{"x":"YearBuilt","y":"LowQualFinSF","r":-0.18},{"x":"YearRemodAdd","y":"LowQualFinSF","r":-0.06},{"x":"MasVnrArea","y":"LowQualFinSF","r":-0.07},{"x":"BsmtFinSF1","y":"LowQualFinSF","r":-0.07},{"x":"BsmtFinSF2","y":"LowQualFinSF","r":0.01},{"x":"BsmtUnfSF","y":"LowQualFinSF","r":0.03},{"x":"TotalBsmtSF","y":"LowQualFinSF","r":-0.03},{"x":"1stFlrSF","y":"LowQualFinSF","r":-0.01},{"x":"2ndFlrSF","y":"LowQualFinSF","r":0.06},{"x":"LowQualFinSF","y":"LowQualFinSF","r":1},{"x":"GrLivArea","y":"LowQualFinSF","r":0.13},{"x":"BsmtFullBath","y":"LowQualFinSF","r":-0.05},{"x":"BsmtHalfBath","y":"LowQualFinSF","r":-0.01},{"x":"FullBath","y":"LowQualFinSF","r":0},{"x":"HalfBath","y":"LowQualFinSF","r":-0.03},{"x":"BedroomAbvGr","y":"LowQualFinSF","r":0.11},{"x":"KitchenAbvGr","y":"LowQualFinSF","r":0.01},{"x":"TotRmsAbvGrd","y":"LowQualFinSF","r":0.13},{"x":"Fireplaces","y":"LowQualFinSF","r":-0.02},{"x":"GarageYrBlt","y":"LowQualFinSF","r":-0.04},{"x":"GarageCars","y":"LowQualFinSF","r":-0.09},{"x":"GarageArea","y":"LowQualFinSF","r":-0.07},{"x":"WoodDeckSF","y":"LowQualFinSF","r":-0.03},{"x":"OpenPorchSF","y":"LowQualFinSF","r":0.02},{"x":"EnclosedPorch","y":"LowQualFinSF","r":0.06},{"x":"3SsnPorch","y":"LowQualFinSF","r":0},{"x":"ScreenPorch","y":"LowQualFinSF","r":0.03},{"x":"PoolArea","y":"LowQualFinSF","r":0.06},{"x":"MiscVal","y":"LowQualFinSF","r":0},{"x":"MoSold","y":"LowQualFinSF","r":-0.02},{"x":"YrSold","y":"LowQualFinSF","r":-0.03},{"x":"SalePrice","y":"LowQualFinSF","r":-0.03},
{"x":"Id","y":"GrLivArea","r":0.01},{"x":"MSSubClass","y":"GrLivArea","r":0.07},{"x":"LotFrontage","y":"GrLivArea","r":0.4},{"x":"LotArea","y":"GrLivArea","r":0.26},{"x":"OverallQual","y":"GrLivArea","r":0.59},{"x":"OverallCond","y":"GrLivArea","r":-0.08},{"x":"YearBuilt","y":"GrLivArea","r":0.2},{"x":"YearRemodAdd","y":"GrLivArea","r":0.29},{"x":"MasVnrArea","y":"GrLivArea","r":0.39},{"x":"BsmtFinSF1","y":"GrLivArea","r":0.21},{"x":"BsmtFinSF2","y":"GrLivArea","r":-0.01},{"x":"BsmtUnfSF","y":"GrLivArea","r":0.24},{"x":"TotalBsmtSF","y":"GrLivArea","r":0.45},{"x":"1stFlrSF","y":"GrLivArea","r":0.57},{"x":"2ndFlrSF","y":"GrLivArea","r":0.69},{"x":"LowQualFinSF","y":"GrLivArea","r":0.13},{"x":"GrLivArea","y":"GrLivArea","r":1},{"x":"BsmtFullBath","y":"GrLivArea","r":0.03},{"x":"BsmtHalfBath","y":"GrLivArea","r":-0.02},{"x":"FullBath","y":"GrLivArea","r":0.63},{"x":"HalfBath","y":"GrLivArea","r":0.42},{"x":"BedroomAbvGr","y":"GrLivArea","r":0.52},{"x":"KitchenAbvGr","y":"GrLivArea","r":0.1},{"x":"TotRmsAbvGrd","y":"GrLivArea","r":0.83},{"x":"Fireplaces","y":"GrLivArea","r":0.46},{"x":"GarageYrBlt","y":"GrLivArea","r":0.23},{"x":"GarageCars","y":"GrLivArea","r":0.47},{"x":"GarageArea","y":"GrLivArea","r":0.47},{"x":"WoodDeckSF","y":"GrLivArea","r":0.25},{"x":"OpenPorchSF","y":"GrLivArea","r":0.33},{"x":"EnclosedPorch","y":"GrLivArea","r":0.01},{"x":"3SsnPorch","y":"GrLivArea","r":0.02},{"x":"ScreenPorch","y":"GrLivArea","r":0.1},{"x":"PoolArea","y":"GrLivArea","r":0.17},{"x":"MiscVal","y":"GrLivArea","r":0},{"x":"MoSold","y":"GrLivArea","r":0.05},{"x":"YrSold","y":"GrLivArea","r":-0.04},{"x":"SalePrice","y":"GrLivArea","r":0.71},
{"x":"Id","y":"BsmtFullBath","r":0},{"x":"MSSubClass","y":"BsmtFullBath","r":0},{"x":"LotFrontage","y":"BsmtFullBath","r":0.1},{"x":"LotArea","y":"BsmtFullBath","r":0.16},{"x":"OverallQual","y":"BsmtFullBath","r":0.11},{"x":"OverallCond","y":"BsmtFullBath","r":-0.05},{"x":"YearBuilt","y":"BsmtFullBath","r":0.19},{"x":"YearRemodAdd","y":"BsmtFullBath","r":0.12},{"x":"MasVnrArea","y":"BsmtFullBath","r":0.09},{"x":"BsmtFinSF1","y":"BsmtFullBath","r":0.65},{"x":"BsmtFinSF2","y":"BsmtFullBath","r":0.16},{"x":"BsmtUnfSF","y":"BsmtFullBath","r":-0.42},{"x":"TotalBsmtSF","y":"BsmtFullBath","r":0.31},{"x":"1stFlrSF","y":"BsmtFullBath","r":0.24},{"x":"2ndFlrSF","y":"BsmtFullBath","r":-0.17},{"x":"LowQualFinSF","y":"BsmtFullBath","r":-0.05},{"x":"GrLivArea","y":"BsmtFullBath","r":0.03},{"x":"BsmtFullBath","y":"BsmtFullBath","r":1},{"x":"BsmtHalfBath","y":"BsmtFullBath","r":-0.15},{"x":"FullBath","y":"BsmtFullBath","r":-0.06},{"x":"HalfBath","y":"BsmtFullBath","r":-0.03},{"x":"BedroomAbvGr","y":"BsmtFullBath","r":-0.15},{"x":"KitchenAbvGr","y":"BsmtFullBath","r":-0.04},{"x":"TotRmsAbvGrd","y":"BsmtFullBath","r":-0.05},{"x":"Fireplaces","y":"BsmtFullBath","r":0.14},{"x":"GarageYrBlt","y":"BsmtFullBath","r":0.12},{"x":"GarageCars","y":"BsmtFullBath","r":0.13},{"x":"GarageArea","y":"BsmtFullBath","r":0.18},{"x":"WoodDeckSF","y":"BsmtFullBath","r":0.18},{"x":"OpenPorchSF","y":"BsmtFullBath","r":0.07},{"x":"EnclosedPorch","y":"BsmtFullBath","r":-0.05},{"x":"3SsnPorch","y":"BsmtFullBath","r":0},{"x":"ScreenPorch","y":"BsmtFullBath","r":0.02},{"x":"PoolArea","y":"BsmtFullBath","r":0.07},{"x":"MiscVal","y":"BsmtFullBath","r":-0.02},{"x":"MoSold","y":"BsmtFullBath","r":-0.03},{"x":"YrSold","y":"BsmtFullBath","r":0.07},{"x":"SalePrice","y":"BsmtFullBath","r":0.23},
{"x":"Id","y":"BsmtHalfBath","r":-0.02},{"x":"MSSubClass","y":"BsmtHalfBath","r":0},{"x":"LotFrontage","y":"BsmtHalfBath","r":-0.01},{"x":"LotArea","y":"BsmtHalfBath","r":0.05},{"x":"OverallQual","y":"BsmtHalfBath","r":-0.04},{"x":"OverallCond","y":"BsmtHalfBath","r":0.12},{"x":"YearBuilt","y":"BsmtHalfBath","r":-0.04},{"x":"YearRemodAdd","y":"BsmtHalfBath","r":-0.01},{"x":"MasVnrArea","y":"BsmtHalfBath","r":0.03},{"x":"BsmtFinSF1","y":"BsmtHalfBath","r":0.07},{"x":"BsmtFinSF2","y":"BsmtHalfBath","r":0.07},{"x":"BsmtUnfSF","y":"BsmtHalfBath","r":-0.1},{"x":"TotalBsmtSF","y":"BsmtHalfBath","r":0},{"x":"1stFlrSF","y":"BsmtHalfBath","r":0},{"x":"2ndFlrSF","y":"BsmtHalfBath","r":-0.02},{"x":"LowQualFinSF","y":"BsmtHalfBath","r":-0.01},{"x":"GrLivArea","y":"BsmtHalfBath","r":-0.02},{"x":"BsmtFullBath","y":"BsmtHalfBath","r":-0.15},{"x":"BsmtHalfBath","y":"BsmtHalfBath","r":1},{"x":"FullBath","y":"BsmtHalfBath","r":-0.05},{"x":"HalfBath","y":"BsmtHalfBath","r":-0.01},{"x":"BedroomAbvGr","y":"BsmtHalfBath","r":0.05},{"x":"KitchenAbvGr","y":"BsmtHalfBath","r":-0.04},{"x":"TotRmsAbvGrd","y":"BsmtHalfBath","r":-0.02},{"x":"Fireplaces","y":"BsmtHalfBath","r":0.03},{"x":"GarageYrBlt","y":"BsmtHalfBath","r":-0.08},{"x":"GarageCars","y":"BsmtHalfBath","r":-0.02},{"x":"GarageArea","y":"BsmtHalfBath","r":-0.02},{"x":"WoodDeckSF","y":"BsmtHalfBath","r":0.04},{"x":"OpenPorchSF","y":"BsmtHalfBath","r":-0.03},{"x":"EnclosedPorch","y":"BsmtHalfBath","r":-0.01},{"x":"3SsnPorch","y":"BsmtHalfBath","r":0.04},{"x":"ScreenPorch","y":"BsmtHalfBath","r":0.03},{"x":"PoolArea","y":"BsmtHalfBath","r":0.02},{"x":"MiscVal","y":"BsmtHalfBath","r":-0.01},{"x":"MoSold","y":"BsmtHalfBath","r":0.03},{"x":"YrSold","y":"BsmtHalfBath","r":-0.05},{"x":"SalePrice","y":"BsmtHalfBath","r":-0.02},
{"x":"Id","y":"FullBath","r":0.01},{"x":"MSSubClass","y":"FullBath","r":0.13},{"x":"LotFrontage","y":"FullBath","r":0.2},{"x":"LotArea","y":"FullBath","r":0.13},{"x":"OverallQual","y":"FullBath","r":0.55},{"x":"OverallCond","y":"FullBath","r":-0.19},{"x":"YearBuilt","y":"FullBath","r":0.47},{"x":"YearRemodAdd","y":"FullBath","r":0.44},{"x":"MasVnrArea","y":"FullBath","r":0.28},{"x":"BsmtFinSF1","y":"FullBath","r":0.06},{"x":"BsmtFinSF2","y":"FullBath","r":-0.08},{"x":"BsmtUnfSF","y":"FullBath","r":0.29},{"x":"TotalBsmtSF","y":"FullBath","r":0.32},{"x":"1stFlrSF","y":"FullBath","r":0.38},{"x":"2ndFlrSF","y":"FullBath","r":0.42},{"x":"LowQualFinSF","y":"FullBath","r":0},{"x":"GrLivArea","y":"FullBath","r":0.63},{"x":"BsmtFullBath","y":"FullBath","r":-0.06},{"x":"BsmtHalfBath","y":"FullBath","r":-0.05},{"x":"FullBath","y":"FullBath","r":1},{"x":"HalfBath","y":"FullBath","r":0.14},{"x":"BedroomAbvGr","y":"FullBath","r":0.36},{"x":"KitchenAbvGr","y":"FullBath","r":0.13},{"x":"TotRmsAbvGrd","y":"FullBath","r":0.55},{"x":"Fireplaces","y":"FullBath","r":0.24},{"x":"GarageYrBlt","y":"FullBath","r":0.48},{"x":"GarageCars","y":"FullBath","r":0.47},{"x":"GarageArea","y":"FullBath","r":0.41},{"x":"WoodDeckSF","y":"FullBath","r":0.19},{"x":"OpenPorchSF","y":"FullBath","r":0.26},{"x":"EnclosedPorch","y":"FullBath","r":-0.12},{"x":"3SsnPorch","y":"FullBath","r":0.04},{"x":"ScreenPorch","y":"FullBath","r":-0.01},{"x":"PoolArea","y":"FullBath","r":0.05},{"x":"MiscVal","y":"FullBath","r":-0.01},{"x":"MoSold","y":"FullBath","r":0.06},{"x":"YrSold","y":"FullBath","r":-0.02},{"x":"SalePrice","y":"FullBath","r":0.56},
{"x":"Id","y":"HalfBath","r":0.01},{"x":"MSSubClass","y":"HalfBath","r":0.18},{"x":"LotFrontage","y":"HalfBath","r":0.05},{"x":"LotArea","y":"HalfBath","r":0.01},{"x":"OverallQual","y":"HalfBath","r":0.27},{"x":"OverallCond","y":"HalfBath","r":-0.06},{"x":"YearBuilt","y":"HalfBath","r":0.24},{"x":"YearRemodAdd","y":"HalfBath","r":0.18},{"x":"MasVnrArea","y":"HalfBath","r":0.2},{"x":"BsmtFinSF1","y":"HalfBath","r":0},{"x":"BsmtFinSF2","y":"HalfBath","r":-0.03},{"x":"BsmtUnfSF","y":"HalfBath","r":-0.04},{"x":"TotalBsmtSF","y":"HalfBath","r":-0.05},{"x":"1stFlrSF","y":"HalfBath","r":-0.12},{"x":"2ndFlrSF","y":"HalfBath","r":0.61},{"x":"LowQualFinSF","y":"HalfBath","r":-0.03},{"x":"GrLivArea","y":"HalfBath","r":0.42},{"x":"BsmtFullBath","y":"HalfBath","r":-0.03},{"x":"BsmtHalfBath","y":"HalfBath","r":-0.01},{"x":"FullBath","y":"HalfBath","r":0.14},{"x":"HalfBath","y":"HalfBath","r":1},{"x":"BedroomAbvGr","y":"HalfBath","r":0.23},{"x":"KitchenAbvGr","y":"HalfBath","r":-0.07},{"x":"TotRmsAbvGrd","y":"HalfBath","r":0.34},{"x":"Fireplaces","y":"HalfBath","r":0.2},{"x":"GarageYrBlt","y":"HalfBath","r":0.2},{"x":"GarageCars","y":"HalfBath","r":0.22},{"x":"GarageArea","y":"HalfBath","r":0.16},{"x":"WoodDeckSF","y":"HalfBath","r":0.11},{"x":"OpenPorchSF","y":"HalfBath","r":0.2},{"x":"EnclosedPorch","y":"HalfBath","r":-0.1},{"x":"3SsnPorch","y":"HalfBath","r":0},{"x":"ScreenPorch","y":"HalfBath","r":0.07},{"x":"PoolArea","y":"HalfBath","r":0.02},{"x":"MiscVal","y":"HalfBath","r":0},{"x":"MoSold","y":"HalfBath","r":-0.01},{"x":"YrSold","y":"HalfBath","r":-0.01},{"x":"SalePrice","y":"HalfBath","r":0.28},
{"x":"Id","y":"BedroomAbvGr","r":0.04},{"x":"MSSubClass","y":"BedroomAbvGr","r":-0.02},{"x":"LotFrontage","y":"BedroomAbvGr","r":0.26},{"x":"LotArea","y":"BedroomAbvGr","r":0.12},{"x":"OverallQual","y":"BedroomAbvGr","r":0.1},{"x":"OverallCond","y":"BedroomAbvGr","r":0.01},{"x":"YearBuilt","y":"BedroomAbvGr","r":-0.07},{"x":"YearRemodAdd","y":"BedroomAbvGr","r":-0.04},{"x":"MasVnrArea","y":"BedroomAbvGr","r":0.1},{"x":"BsmtFinSF1","y":"BedroomAbvGr","r":-0.11},{"x":"BsmtFinSF2","y":"BedroomAbvGr","r":-0.02},{"x":"BsmtUnfSF","y":"BedroomAbvGr","r":0.17},{"x":"TotalBsmtSF","y":"BedroomAbvGr","r":0.05},{"x":"1stFlrSF","y":"BedroomAbvGr","r":0.13},{"x":"2ndFlrSF","y":"BedroomAbvGr","r":0.5},{"x":"LowQualFinSF","y":"BedroomAbvGr","r":0.11},{"x":"GrLivArea","y":"BedroomAbvGr","r":0.52},{"x":"BsmtFullBath","y":"BedroomAbvGr","r":-0.15},{"x":"BsmtHalfBath","y":"BedroomAbvGr","r":0.05},{"x":"FullBath","y":"BedroomAbvGr","r":0.36},{"x":"HalfBath","y":"BedroomAbvGr","r":0.23},{"x":"BedroomAbvGr","y":"BedroomAbvGr","r":1},{"x":"KitchenAbvGr","y":"BedroomAbvGr","r":0.2},{"x":"TotRmsAbvGrd","y":"BedroomAbvGr","r":0.68},{"x":"Fireplaces","y":"BedroomAbvGr","r":0.11},{"x":"GarageYrBlt","y":"BedroomAbvGr","r":-0.06},{"x":"GarageCars","y":"BedroomAbvGr","r":0.09},{"x":"GarageArea","y":"BedroomAbvGr","r":0.07},{"x":"WoodDeckSF","y":"BedroomAbvGr","r":0.05},{"x":"OpenPorchSF","y":"BedroomAbvGr","r":0.09},{"x":"EnclosedPorch","y":"BedroomAbvGr","r":0.04},{"x":"3SsnPorch","y":"BedroomAbvGr","r":-0.02},{"x":"ScreenPorch","y":"BedroomAbvGr","r":0.04},{"x":"PoolArea","y":"BedroomAbvGr","r":0.07},{"x":"MiscVal","y":"BedroomAbvGr","r":0.01},{"x":"MoSold","y":"BedroomAbvGr","r":0.05},{"x":"YrSold","y":"BedroomAbvGr","r":-0.04},{"x":"SalePrice","y":"BedroomAbvGr","r":0.17},
{"x":"Id","y":"KitchenAbvGr","r":0},{"x":"MSSubClass","y":"KitchenAbvGr","r":0.28},{"x":"LotFrontage","y":"KitchenAbvGr","r":-0.01},{"x":"LotArea","y":"KitchenAbvGr","r":-0.02},{"x":"OverallQual","y":"KitchenAbvGr","r":-0.18},{"x":"OverallCond","y":"KitchenAbvGr","r":-0.09},{"x":"YearBuilt","y":"KitchenAbvGr","r":-0.17},{"x":"YearRemodAdd","y":"KitchenAbvGr","r":-0.15},{"x":"MasVnrArea","y":"KitchenAbvGr","r":-0.04},{"x":"BsmtFinSF1","y":"KitchenAbvGr","r":-0.08},{"x":"BsmtFinSF2","y":"KitchenAbvGr","r":-0.04},{"x":"BsmtUnfSF","y":"KitchenAbvGr","r":0.03},{"x":"TotalBsmtSF","y":"KitchenAbvGr","r":-0.07},{"x":"1stFlrSF","y":"KitchenAbvGr","r":0.07},{"x":"2ndFlrSF","y":"KitchenAbvGr","r":0.06},{"x":"LowQualFinSF","y":"KitchenAbvGr","r":0.01},{"x":"GrLivArea","y":"KitchenAbvGr","r":0.1},{"x":"BsmtFullBath","y":"KitchenAbvGr","r":-0.04},{"x":"BsmtHalfBath","y":"KitchenAbvGr","r":-0.04},{"x":"FullBath","y":"KitchenAbvGr","r":0.13},{"x":"HalfBath","y":"KitchenAbvGr","r":-0.07},{"x":"BedroomAbvGr","y":"KitchenAbvGr","r":0.2},{"x":"KitchenAbvGr","y":"KitchenAbvGr","r":1},{"x":"TotRmsAbvGrd","y":"KitchenAbvGr","r":0.26},{"x":"Fireplaces","y":"KitchenAbvGr","r":-0.12},{"x":"GarageYrBlt","y":"KitchenAbvGr","r":-0.12},{"x":"GarageCars","y":"KitchenAbvGr","r":-0.05},{"x":"GarageArea","y":"KitchenAbvGr","r":-0.06},{"x":"WoodDeckSF","y":"KitchenAbvGr","r":-0.09},{"x":"OpenPorchSF","y":"KitchenAbvGr","r":-0.07},{"x":"EnclosedPorch","y":"KitchenAbvGr","r":0.04},{"x":"3SsnPorch","y":"KitchenAbvGr","r":-0.02},{"x":"ScreenPorch","y":"KitchenAbvGr","r":-0.05},{"x":"PoolArea","y":"KitchenAbvGr","r":-0.01},{"x":"MiscVal","y":"KitchenAbvGr","r":0.06},{"x":"MoSold","y":"KitchenAbvGr","r":0.03},{"x":"YrSold","y":"KitchenAbvGr","r":0.03},{"x":"SalePrice","y":"KitchenAbvGr","r":-0.14},
{"x":"Id","y":"TotRmsAbvGrd","r":0.03},{"x":"MSSubClass","y":"TotRmsAbvGrd","r":0.04},{"x":"LotFrontage","y":"TotRmsAbvGrd","r":0.35},{"x":"LotArea","y":"TotRmsAbvGrd","r":0.19},{"x":"OverallQual","y":"TotRmsAbvGrd","r":0.43},{"x":"OverallCond","y":"TotRmsAbvGrd","r":-0.06},{"x":"YearBuilt","y":"TotRmsAbvGrd","r":0.1},{"x":"YearRemodAdd","y":"TotRmsAbvGrd","r":0.19},{"x":"MasVnrArea","y":"TotRmsAbvGrd","r":0.28},{"x":"BsmtFinSF1","y":"TotRmsAbvGrd","r":0.04},{"x":"BsmtFinSF2","y":"TotRmsAbvGrd","r":-0.04},{"x":"BsmtUnfSF","y":"TotRmsAbvGrd","r":0.25},{"x":"TotalBsmtSF","y":"TotRmsAbvGrd","r":0.29},{"x":"1stFlrSF","y":"TotRmsAbvGrd","r":0.41},{"x":"2ndFlrSF","y":"TotRmsAbvGrd","r":0.62},{"x":"LowQualFinSF","y":"TotRmsAbvGrd","r":0.13},{"x":"GrLivArea","y":"TotRmsAbvGrd","r":0.83},{"x":"BsmtFullBath","y":"TotRmsAbvGrd","r":-0.05},{"x":"BsmtHalfBath","y":"TotRmsAbvGrd","r":-0.02},{"x":"FullBath","y":"TotRmsAbvGrd","r":0.55},{"x":"HalfBath","y":"TotRmsAbvGrd","r":0.34},{"x":"BedroomAbvGr","y":"TotRmsAbvGrd","r":0.68},{"x":"KitchenAbvGr","y":"TotRmsAbvGrd","r":0.26},{"x":"TotRmsAbvGrd","y":"TotRmsAbvGrd","r":1},{"x":"Fireplaces","y":"TotRmsAbvGrd","r":0.25},{"x":"GarageYrBlt","y":"TotRmsAbvGrd","r":0.15},{"x":"GarageCars","y":"TotRmsAbvGrd","r":0.36},{"x":"GarageArea","y":"TotRmsAbvGrd","r":0.34},{"x":"WoodDeckSF","y":"TotRmsAbvGrd","r":0.17},{"x":"OpenPorchSF","y":"TotRmsAbvGrd","r":0.23},{"x":"EnclosedPorch","y":"TotRmsAbvGrd","r":0},{"x":"3SsnPorch","y":"TotRmsAbvGrd","r":-0.01},{"x":"ScreenPorch","y":"TotRmsAbvGrd","r":0.06},{"x":"PoolArea","y":"TotRmsAbvGrd","r":0.08},{"x":"MiscVal","y":"TotRmsAbvGrd","r":0.02},{"x":"MoSold","y":"TotRmsAbvGrd","r":0.04},{"x":"YrSold","y":"TotRmsAbvGrd","r":-0.03},{"x":"SalePrice","y":"TotRmsAbvGrd","r":0.53},
{"x":"Id","y":"Fireplaces","r":-0.02},{"x":"MSSubClass","y":"Fireplaces","r":-0.05},{"x":"LotFrontage","y":"Fireplaces","r":0.27},{"x":"LotArea","y":"Fireplaces","r":0.27},{"x":"OverallQual","y":"Fireplaces","r":0.4},{"x":"OverallCond","y":"Fireplaces","r":-0.02},{"x":"YearBuilt","y":"Fireplaces","r":0.15},{"x":"YearRemodAdd","y":"Fireplaces","r":0.11},{"x":"MasVnrArea","y":"Fireplaces","r":0.25},{"x":"BsmtFinSF1","y":"Fireplaces","r":0.26},{"x":"BsmtFinSF2","y":"Fireplaces","r":0.05},{"x":"BsmtUnfSF","y":"Fireplaces","r":0.05},{"x":"TotalBsmtSF","y":"Fireplaces","r":0.34},{"x":"1stFlrSF","y":"Fireplaces","r":0.41},{"x":"2ndFlrSF","y":"Fireplaces","r":0.19},{"x":"LowQualFinSF","y":"Fireplaces","r":-0.02},{"x":"GrLivArea","y":"Fireplaces","r":0.46},{"x":"BsmtFullBath","y":"Fireplaces","r":0.14},{"x":"BsmtHalfBath","y":"Fireplaces","r":0.03},{"x":"FullBath","y":"Fireplaces","r":0.24},{"x":"HalfBath","y":"Fireplaces","r":0.2},{"x":"BedroomAbvGr","y":"Fireplaces","r":0.11},{"x":"KitchenAbvGr","y":"Fireplaces","r":-0.12},{"x":"TotRmsAbvGrd","y":"Fireplaces","r":0.25},{"x":"Fireplaces","y":"Fireplaces","r":1},{"x":"GarageYrBlt","y":"Fireplaces","r":0.05},{"x":"GarageCars","y":"Fireplaces","r":0.3},{"x":"GarageArea","y":"Fireplaces","r":0.27},{"x":"WoodDeckSF","y":"Fireplaces","r":0.2},{"x":"OpenPorchSF","y":"Fireplaces","r":0.17},{"x":"EnclosedPorch","y":"Fireplaces","r":-0.02},{"x":"3SsnPorch","y":"Fireplaces","r":0.01},{"x":"ScreenPorch","y":"Fireplaces","r":0.18},{"x":"PoolArea","y":"Fireplaces","r":0.1},{"x":"MiscVal","y":"Fireplaces","r":0},{"x":"MoSold","y":"Fireplaces","r":0.05},{"x":"YrSold","y":"Fireplaces","r":-0.02},{"x":"SalePrice","y":"Fireplaces","r":0.47},
{"x":"Id","y":"GarageYrBlt","r":0},{"x":"MSSubClass","y":"GarageYrBlt","r":0.09},{"x":"LotFrontage","y":"GarageYrBlt","r":0.07},{"x":"LotArea","y":"GarageYrBlt","r":-0.02},{"x":"OverallQual","y":"GarageYrBlt","r":0.55},{"x":"OverallCond","y":"GarageYrBlt","r":-0.32},{"x":"YearBuilt","y":"GarageYrBlt","r":0.83},{"x":"YearRemodAdd","y":"GarageYrBlt","r":0.64},{"x":"MasVnrArea","y":"GarageYrBlt","r":0.25},{"x":"BsmtFinSF1","y":"GarageYrBlt","r":0.15},{"x":"BsmtFinSF2","y":"GarageYrBlt","r":-0.09},{"x":"BsmtUnfSF","y":"GarageYrBlt","r":0.19},{"x":"TotalBsmtSF","y":"GarageYrBlt","r":0.32},{"x":"1stFlrSF","y":"GarageYrBlt","r":0.23},{"x":"2ndFlrSF","y":"GarageYrBlt","r":0.07},{"x":"LowQualFinSF","y":"GarageYrBlt","r":-0.04},{"x":"GrLivArea","y":"GarageYrBlt","r":0.23},{"x":"BsmtFullBath","y":"GarageYrBlt","r":0.12},{"x":"BsmtHalfBath","y":"GarageYrBlt","r":-0.08},{"x":"FullBath","y":"GarageYrBlt","r":0.48},{"x":"HalfBath","y":"GarageYrBlt","r":0.2},{"x":"BedroomAbvGr","y":"GarageYrBlt","r":-0.06},{"x":"KitchenAbvGr","y":"GarageYrBlt","r":-0.12},{"x":"TotRmsAbvGrd","y":"GarageYrBlt","r":0.15},{"x":"Fireplaces","y":"GarageYrBlt","r":0.05},{"x":"GarageYrBlt","y":"GarageYrBlt","r":1},{"x":"GarageCars","y":"GarageYrBlt","r":0.59},{"x":"GarageArea","y":"GarageYrBlt","r":0.56},{"x":"WoodDeckSF","y":"GarageYrBlt","r":0.22},{"x":"OpenPorchSF","y":"GarageYrBlt","r":0.23},{"x":"EnclosedPorch","y":"GarageYrBlt","r":-0.3},{"x":"3SsnPorch","y":"GarageYrBlt","r":0.02},{"x":"ScreenPorch","y":"GarageYrBlt","r":-0.08},{"x":"PoolArea","y":"GarageYrBlt","r":-0.01},{"x":"MiscVal","y":"GarageYrBlt","r":-0.03},{"x":"MoSold","y":"GarageYrBlt","r":0.01},{"x":"YrSold","y":"GarageYrBlt","r":0},{"x":"SalePrice","y":"GarageYrBlt","r":0.49},
{"x":"Id","y":"GarageCars","r":0.02},{"x":"MSSubClass","y":"GarageCars","r":-0.04},{"x":"LotFrontage","y":"GarageCars","r":0.29},{"x":"LotArea","y":"GarageCars","r":0.15},{"x":"OverallQual","y":"GarageCars","r":0.6},{"x":"OverallCond","y":"GarageCars","r":-0.19},{"x":"YearBuilt","y":"GarageCars","r":0.54},{"x":"YearRemodAdd","y":"GarageCars","r":0.42},{"x":"MasVnrArea","y":"GarageCars","r":0.36},{"x":"BsmtFinSF1","y":"GarageCars","r":0.22},{"x":"BsmtFinSF2","y":"GarageCars","r":-0.04},{"x":"BsmtUnfSF","y":"GarageCars","r":0.21},{"x":"TotalBsmtSF","y":"GarageCars","r":0.43},{"x":"1stFlrSF","y":"GarageCars","r":0.44},{"x":"2ndFlrSF","y":"GarageCars","r":0.18},{"x":"LowQualFinSF","y":"GarageCars","r":-0.09},{"x":"GrLivArea","y":"GarageCars","r":0.47},{"x":"BsmtFullBath","y":"GarageCars","r":0.13},{"x":"BsmtHalfBath","y":"GarageCars","r":-0.02},{"x":"FullBath","y":"GarageCars","r":0.47},{"x":"HalfBath","y":"GarageCars","r":0.22},{"x":"BedroomAbvGr","y":"GarageCars","r":0.09},{"x":"KitchenAbvGr","y":"GarageCars","r":-0.05},{"x":"TotRmsAbvGrd","y":"GarageCars","r":0.36},{"x":"Fireplaces","y":"GarageCars","r":0.3},{"x":"GarageYrBlt","y":"GarageCars","r":0.59},{"x":"GarageCars","y":"GarageCars","r":1},{"x":"GarageArea","y":"GarageCars","r":0.88},{"x":"WoodDeckSF","y":"GarageCars","r":0.23},{"x":"OpenPorchSF","y":"GarageCars","r":0.21},{"x":"EnclosedPorch","y":"GarageCars","r":-0.15},{"x":"3SsnPorch","y":"GarageCars","r":0.04},{"x":"ScreenPorch","y":"GarageCars","r":0.05},{"x":"PoolArea","y":"GarageCars","r":0.02},{"x":"MiscVal","y":"GarageCars","r":-0.04},{"x":"MoSold","y":"GarageCars","r":0.04},{"x":"YrSold","y":"GarageCars","r":-0.04},{"x":"SalePrice","y":"GarageCars","r":0.64},
{"x":"Id","y":"GarageArea","r":0.02},{"x":"MSSubClass","y":"GarageArea","r":-0.1},{"x":"LotFrontage","y":"GarageArea","r":0.34},{"x":"LotArea","y":"GarageArea","r":0.18},{"x":"OverallQual","y":"GarageArea","r":0.56},{"x":"OverallCond","y":"GarageArea","r":-0.15},{"x":"YearBuilt","y":"GarageArea","r":0.48},{"x":"YearRemodAdd","y":"GarageArea","r":0.37},{"x":"MasVnrArea","y":"GarageArea","r":0.37},{"x":"BsmtFinSF1","y":"GarageArea","r":0.3},{"x":"BsmtFinSF2","y":"GarageArea","r":-0.02},{"x":"BsmtUnfSF","y":"GarageArea","r":0.18},{"x":"TotalBsmtSF","y":"GarageArea","r":0.49},{"x":"1stFlrSF","y":"GarageArea","r":0.49},{"x":"2ndFlrSF","y":"GarageArea","r":0.14},{"x":"LowQualFinSF","y":"GarageArea","r":-0.07},{"x":"GrLivArea","y":"GarageArea","r":0.47},{"x":"BsmtFullBath","y":"GarageArea","r":0.18},{"x":"BsmtHalfBath","y":"GarageArea","r":-0.02},{"x":"FullBath","y":"GarageArea","r":0.41},{"x":"HalfBath","y":"GarageArea","r":0.16},{"x":"BedroomAbvGr","y":"GarageArea","r":0.07},{"x":"KitchenAbvGr","y":"GarageArea","r":-0.06},{"x":"TotRmsAbvGrd","y":"GarageArea","r":0.34},{"x":"Fireplaces","y":"GarageArea","r":0.27},{"x":"GarageYrBlt","y":"GarageArea","r":0.56},{"x":"GarageCars","y":"GarageArea","r":0.88},{"x":"GarageArea","y":"GarageArea","r":1},{"x":"WoodDeckSF","y":"GarageArea","r":0.22},{"x":"OpenPorchSF","y":"GarageArea","r":0.24},{"x":"EnclosedPorch","y":"GarageArea","r":-0.12},{"x":"3SsnPorch","y":"GarageArea","r":0.04},{"x":"ScreenPorch","y":"GarageArea","r":0.05},{"x":"PoolArea","y":"GarageArea","r":0.06},{"x":"MiscVal","y":"GarageArea","r":-0.03},{"x":"MoSold","y":"GarageArea","r":0.03},{"x":"YrSold","y":"GarageArea","r":-0.03},{"x":"SalePrice","y":"GarageArea","r":0.62},
{"x":"Id","y":"WoodDeckSF","r":-0.03},{"x":"MSSubClass","y":"WoodDeckSF","r":-0.01},{"x":"LotFrontage","y":"WoodDeckSF","r":0.09},{"x":"LotArea","y":"WoodDeckSF","r":0.17},{"x":"OverallQual","y":"WoodDeckSF","r":0.24},{"x":"OverallCond","y":"WoodDeckSF","r":0},{"x":"YearBuilt","y":"WoodDeckSF","r":0.22},{"x":"YearRemodAdd","y":"WoodDeckSF","r":0.21},{"x":"MasVnrArea","y":"WoodDeckSF","r":0.16},{"x":"BsmtFinSF1","y":"WoodDeckSF","r":0.2},{"x":"BsmtFinSF2","y":"WoodDeckSF","r":0.07},{"x":"BsmtUnfSF","y":"WoodDeckSF","r":-0.01},{"x":"TotalBsmtSF","y":"WoodDeckSF","r":0.23},{"x":"1stFlrSF","y":"WoodDeckSF","r":0.24},{"x":"2ndFlrSF","y":"WoodDeckSF","r":0.09},{"x":"LowQualFinSF","y":"WoodDeckSF","r":-0.03},{"x":"GrLivArea","y":"WoodDeckSF","r":0.25},{"x":"BsmtFullBath","y":"WoodDeckSF","r":0.18},{"x":"BsmtHalfBath","y":"WoodDeckSF","r":0.04},{"x":"FullBath","y":"WoodDeckSF","r":0.19},{"x":"HalfBath","y":"WoodDeckSF","r":0.11},{"x":"BedroomAbvGr","y":"WoodDeckSF","r":0.05},{"x":"KitchenAbvGr","y":"WoodDeckSF","r":-0.09},{"x":"TotRmsAbvGrd","y":"WoodDeckSF","r":0.17},{"x":"Fireplaces","y":"WoodDeckSF","r":0.2},{"x":"GarageYrBlt","y":"WoodDeckSF","r":0.22},{"x":"GarageCars","y":"WoodDeckSF","r":0.23},{"x":"GarageArea","y":"WoodDeckSF","r":0.22},{"x":"WoodDeckSF","y":"WoodDeckSF","r":1},{"x":"OpenPorchSF","y":"WoodDeckSF","r":0.06},{"x":"EnclosedPorch","y":"WoodDeckSF","r":-0.13},{"x":"3SsnPorch","y":"WoodDeckSF","r":-0.03},{"x":"ScreenPorch","y":"WoodDeckSF","r":-0.07},{"x":"PoolArea","y":"WoodDeckSF","r":0.07},{"x":"MiscVal","y":"WoodDeckSF","r":-0.01},{"x":"MoSold","y":"WoodDeckSF","r":0.02},{"x":"YrSold","y":"WoodDeckSF","r":0.02},{"x":"SalePrice","y":"WoodDeckSF","r":0.32},
{"x":"Id","y":"OpenPorchSF","r":0},{"x":"MSSubClass","y":"OpenPorchSF","r":-0.01},{"x":"LotFrontage","y":"OpenPorchSF","r":0.15},{"x":"LotArea","y":"OpenPorchSF","r":0.08},{"x":"OverallQual","y":"OpenPorchSF","r":0.31},{"x":"OverallCond","y":"OpenPorchSF","r":-0.03},{"x":"YearBuilt","y":"OpenPorchSF","r":0.19},{"x":"YearRemodAdd","y":"OpenPorchSF","r":0.23},{"x":"MasVnrArea","y":"OpenPorchSF","r":0.13},{"x":"BsmtFinSF1","y":"OpenPorchSF","r":0.11},{"x":"BsmtFinSF2","y":"OpenPorchSF","r":0},{"x":"BsmtUnfSF","y":"OpenPorchSF","r":0.13},{"x":"TotalBsmtSF","y":"OpenPorchSF","r":0.25},{"x":"1stFlrSF","y":"OpenPorchSF","r":0.21},{"x":"2ndFlrSF","y":"OpenPorchSF","r":0.21},{"x":"LowQualFinSF","y":"OpenPorchSF","r":0.02},{"x":"GrLivArea","y":"OpenPorchSF","r":0.33},{"x":"BsmtFullBath","y":"OpenPorchSF","r":0.07},{"x":"BsmtHalfBath","y":"OpenPorchSF","r":-0.03},{"x":"FullBath","y":"OpenPorchSF","r":0.26},{"x":"HalfBath","y":"OpenPorchSF","r":0.2},{"x":"BedroomAbvGr","y":"OpenPorchSF","r":0.09},{"x":"KitchenAbvGr","y":"OpenPorchSF","r":-0.07},{"x":"TotRmsAbvGrd","y":"OpenPorchSF","r":0.23},{"x":"Fireplaces","y":"OpenPorchSF","r":0.17},{"x":"GarageYrBlt","y":"OpenPorchSF","r":0.23},{"x":"GarageCars","y":"OpenPorchSF","r":0.21},{"x":"GarageArea","y":"OpenPorchSF","r":0.24},{"x":"WoodDeckSF","y":"OpenPorchSF","r":0.06},{"x":"OpenPorchSF","y":"OpenPorchSF","r":1},{"x":"EnclosedPorch","y":"OpenPorchSF","r":-0.09},{"x":"3SsnPorch","y":"OpenPorchSF","r":-0.01},{"x":"ScreenPorch","y":"OpenPorchSF","r":0.07},{"x":"PoolArea","y":"OpenPorchSF","r":0.06},{"x":"MiscVal","y":"OpenPorchSF","r":-0.02},{"x":"MoSold","y":"OpenPorchSF","r":0.07},{"x":"YrSold","y":"OpenPorchSF","r":-0.06},{"x":"SalePrice","y":"OpenPorchSF","r":0.32},
{"x":"Id","y":"EnclosedPorch","r":0},{"x":"MSSubClass","y":"EnclosedPorch","r":-0.01},{"x":"LotFrontage","y":"EnclosedPorch","r":0.01},{"x":"LotArea","y":"EnclosedPorch","r":-0.02},{"x":"OverallQual","y":"EnclosedPorch","r":-0.11},{"x":"OverallCond","y":"EnclosedPorch","r":0.07},{"x":"YearBuilt","y":"EnclosedPorch","r":-0.39},{"x":"YearRemodAdd","y":"EnclosedPorch","r":-0.19},{"x":"MasVnrArea","y":"EnclosedPorch","r":-0.11},{"x":"BsmtFinSF1","y":"EnclosedPorch","r":-0.1},{"x":"BsmtFinSF2","y":"EnclosedPorch","r":0.04},{"x":"BsmtUnfSF","y":"EnclosedPorch","r":0},{"x":"TotalBsmtSF","y":"EnclosedPorch","r":-0.1},{"x":"1stFlrSF","y":"EnclosedPorch","r":-0.07},{"x":"2ndFlrSF","y":"EnclosedPorch","r":0.06},{"x":"LowQualFinSF","y":"EnclosedPorch","r":0.06},{"x":"GrLivArea","y":"EnclosedPorch","r":0.01},{"x":"BsmtFullBath","y":"EnclosedPorch","r":-0.05},{"x":"BsmtHalfBath","y":"EnclosedPorch","r":-0.01},{"x":"FullBath","y":"EnclosedPorch","r":-0.12},{"x":"HalfBath","y":"EnclosedPorch","r":-0.1},{"x":"BedroomAbvGr","y":"EnclosedPorch","r":0.04},{"x":"KitchenAbvGr","y":"EnclosedPorch","r":0.04},{"x":"TotRmsAbvGrd","y":"EnclosedPorch","r":0},{"x":"Fireplaces","y":"EnclosedPorch","r":-0.02},{"x":"GarageYrBlt","y":"EnclosedPorch","r":-0.3},{"x":"GarageCars","y":"EnclosedPorch","r":-0.15},{"x":"GarageArea","y":"EnclosedPorch","r":-0.12},{"x":"WoodDeckSF","y":"EnclosedPorch","r":-0.13},{"x":"OpenPorchSF","y":"EnclosedPorch","r":-0.09},{"x":"EnclosedPorch","y":"EnclosedPorch","r":1},{"x":"3SsnPorch","y":"EnclosedPorch","r":-0.04},{"x":"ScreenPorch","y":"EnclosedPorch","r":-0.08},{"x":"PoolArea","y":"EnclosedPorch","r":0.05},{"x":"MiscVal","y":"EnclosedPorch","r":0.02},{"x":"MoSold","y":"EnclosedPorch","r":-0.03},{"x":"YrSold","y":"EnclosedPorch","r":-0.01},{"x":"SalePrice","y":"EnclosedPorch","r":-0.13},
{"x":"Id","y":"3SsnPorch","r":-0.05},{"x":"MSSubClass","y":"3SsnPorch","r":-0.04},{"x":"LotFrontage","y":"3SsnPorch","r":0.07},{"x":"LotArea","y":"3SsnPorch","r":0.02},{"x":"OverallQual","y":"3SsnPorch","r":0.03},{"x":"OverallCond","y":"3SsnPorch","r":0.03},{"x":"YearBuilt","y":"3SsnPorch","r":0.03},{"x":"YearRemodAdd","y":"3SsnPorch","r":0.05},{"x":"MasVnrArea","y":"3SsnPorch","r":0.02},{"x":"BsmtFinSF1","y":"3SsnPorch","r":0.03},{"x":"BsmtFinSF2","y":"3SsnPorch","r":-0.03},{"x":"BsmtUnfSF","y":"3SsnPorch","r":0.02},{"x":"TotalBsmtSF","y":"3SsnPorch","r":0.04},{"x":"1stFlrSF","y":"3SsnPorch","r":0.06},{"x":"2ndFlrSF","y":"3SsnPorch","r":-0.02},{"x":"LowQualFinSF","y":"3SsnPorch","r":0},{"x":"GrLivArea","y":"3SsnPorch","r":0.02},{"x":"BsmtFullBath","y":"3SsnPorch","r":0},{"x":"BsmtHalfBath","y":"3SsnPorch","r":0.04},{"x":"FullBath","y":"3SsnPorch","r":0.04},{"x":"HalfBath","y":"3SsnPorch","r":0},{"x":"BedroomAbvGr","y":"3SsnPorch","r":-0.02},{"x":"KitchenAbvGr","y":"3SsnPorch","r":-0.02},{"x":"TotRmsAbvGrd","y":"3SsnPorch","r":-0.01},{"x":"Fireplaces","y":"3SsnPorch","r":0.01},{"x":"GarageYrBlt","y":"3SsnPorch","r":0.02},{"x":"GarageCars","y":"3SsnPorch","r":0.04},{"x":"GarageArea","y":"3SsnPorch","r":0.04},{"x":"WoodDeckSF","y":"3SsnPorch","r":-0.03},{"x":"OpenPorchSF","y":"3SsnPorch","r":-0.01},{"x":"EnclosedPorch","y":"3SsnPorch","r":-0.04},{"x":"3SsnPorch","y":"3SsnPorch","r":1},{"x":"ScreenPorch","y":"3SsnPorch","r":-0.03},{"x":"PoolArea","y":"3SsnPorch","r":-0.01},{"x":"MiscVal","y":"3SsnPorch","r":0},{"x":"MoSold","y":"3SsnPorch","r":0.03},{"x":"YrSold","y":"3SsnPorch","r":0.02},{"x":"SalePrice","y":"3SsnPorch","r":0.04},
{"x":"Id","y":"ScreenPorch","r":0},{"x":"MSSubClass","y":"ScreenPorch","r":-0.03},{"x":"LotFrontage","y":"ScreenPorch","r":0.04},{"x":"LotArea","y":"ScreenPorch","r":0.04},{"x":"OverallQual","y":"ScreenPorch","r":0.06},{"x":"OverallCond","y":"ScreenPorch","r":0.05},{"x":"YearBuilt","y":"ScreenPorch","r":-0.05},{"x":"YearRemodAdd","y":"ScreenPorch","r":-0.04},{"x":"MasVnrArea","y":"ScreenPorch","r":0.06},{"x":"BsmtFinSF1","y":"ScreenPorch","r":0.06},{"x":"BsmtFinSF2","y":"ScreenPorch","r":0.09},{"x":"BsmtUnfSF","y":"ScreenPorch","r":-0.01},{"x":"TotalBsmtSF","y":"ScreenPorch","r":0.08},{"x":"1stFlrSF","y":"ScreenPorch","r":0.09},{"x":"2ndFlrSF","y":"ScreenPorch","r":0.04},{"x":"LowQualFinSF","y":"ScreenPorch","r":0.03},{"x":"GrLivArea","y":"ScreenPorch","r":0.1},{"x":"BsmtFullBath","y":"ScreenPorch","r":0.02},{"x":"BsmtHalfBath","y":"ScreenPorch","r":0.03},{"x":"FullBath","y":"ScreenPorch","r":-0.01},{"x":"HalfBath","y":"ScreenPorch","r":0.07},{"x":"BedroomAbvGr","y":"ScreenPorch","r":0.04},{"x":"KitchenAbvGr","y":"ScreenPorch","r":-0.05},{"x":"TotRmsAbvGrd","y":"ScreenPorch","r":0.06},{"x":"Fireplaces","y":"ScreenPorch","r":0.18},{"x":"GarageYrBlt","y":"ScreenPorch","r":-0.08},{"x":"GarageCars","y":"ScreenPorch","r":0.05},{"x":"GarageArea","y":"ScreenPorch","r":0.05},{"x":"WoodDeckSF","y":"ScreenPorch","r":-0.07},{"x":"OpenPorchSF","y":"ScreenPorch","r":0.07},{"x":"EnclosedPorch","y":"ScreenPorch","r":-0.08},{"x":"3SsnPorch","y":"ScreenPorch","r":-0.03},{"x":"ScreenPorch","y":"ScreenPorch","r":1},{"x":"PoolArea","y":"ScreenPorch","r":0.05},{"x":"MiscVal","y":"ScreenPorch","r":0.03},{"x":"MoSold","y":"ScreenPorch","r":0.02},{"x":"YrSold","y":"ScreenPorch","r":0.01},{"x":"SalePrice","y":"ScreenPorch","r":0.11},
{"x":"Id","y":"PoolArea","r":0.06},{"x":"MSSubClass","y":"PoolArea","r":0.01},{"x":"LotFrontage","y":"PoolArea","r":0.21},{"x":"LotArea","y":"PoolArea","r":0.08},{"x":"OverallQual","y":"PoolArea","r":0.07},{"x":"OverallCond","y":"PoolArea","r":0},{"x":"YearBuilt","y":"PoolArea","r":0},{"x":"YearRemodAdd","y":"PoolArea","r":0.01},{"x":"MasVnrArea","y":"PoolArea","r":0.01},{"x":"BsmtFinSF1","y":"PoolArea","r":0.14},{"x":"BsmtFinSF2","y":"PoolArea","r":0.04},{"x":"BsmtUnfSF","y":"PoolArea","r":-0.04},{"x":"TotalBsmtSF","y":"PoolArea","r":0.13},{"x":"1stFlrSF","y":"PoolArea","r":0.13},{"x":"2ndFlrSF","y":"PoolArea","r":0.08},{"x":"LowQualFinSF","y":"PoolArea","r":0.06},{"x":"GrLivArea","y":"PoolArea","r":0.17},{"x":"BsmtFullBath","y":"PoolArea","r":0.07},{"x":"BsmtHalfBath","y":"PoolArea","r":0.02},{"x":"FullBath","y":"PoolArea","r":0.05},{"x":"HalfBath","y":"PoolArea","r":0.02},{"x":"BedroomAbvGr","y":"PoolArea","r":0.07},{"x":"KitchenAbvGr","y":"PoolArea","r":-0.01},{"x":"TotRmsAbvGrd","y":"PoolArea","r":0.08},{"x":"Fireplaces","y":"PoolArea","r":0.1},{"x":"GarageYrBlt","y":"PoolArea","r":-0.01},{"x":"GarageCars","y":"PoolArea","r":0.02},{"x":"GarageArea","y":"PoolArea","r":0.06},{"x":"WoodDeckSF","y":"PoolArea","r":0.07},{"x":"OpenPorchSF","y":"PoolArea","r":0.06},{"x":"EnclosedPorch","y":"PoolArea","r":0.05},{"x":"3SsnPorch","y":"PoolArea","r":-0.01},{"x":"ScreenPorch","y":"PoolArea","r":0.05},{"x":"PoolArea","y":"PoolArea","r":1},{"x":"MiscVal","y":"PoolArea","r":0.03},{"x":"MoSold","y":"PoolArea","r":-0.03},{"x":"YrSold","y":"PoolArea","r":-0.06},{"x":"SalePrice","y":"PoolArea","r":0.09},
{"x":"Id","y":"MiscVal","r":-0.01},{"x":"MSSubClass","y":"MiscVal","r":-0.01},{"x":"LotFrontage","y":"MiscVal","r":0},{"x":"LotArea","y":"MiscVal","r":0.04},{"x":"OverallQual","y":"MiscVal","r":-0.03},{"x":"OverallCond","y":"MiscVal","r":0.07},{"x":"YearBuilt","y":"MiscVal","r":-0.03},{"x":"YearRemodAdd","y":"MiscVal","r":-0.01},{"x":"MasVnrArea","y":"MiscVal","r":-0.03},{"x":"BsmtFinSF1","y":"MiscVal","r":0},{"x":"BsmtFinSF2","y":"MiscVal","r":0},{"x":"BsmtUnfSF","y":"MiscVal","r":-0.02},{"x":"TotalBsmtSF","y":"MiscVal","r":-0.02},{"x":"1stFlrSF","y":"MiscVal","r":-0.02},{"x":"2ndFlrSF","y":"MiscVal","r":0.02},{"x":"LowQualFinSF","y":"MiscVal","r":0},{"x":"GrLivArea","y":"MiscVal","r":0},{"x":"BsmtFullBath","y":"MiscVal","r":-0.02},{"x":"BsmtHalfBath","y":"MiscVal","r":-0.01},{"x":"FullBath","y":"MiscVal","r":-0.01},{"x":"HalfBath","y":"MiscVal","r":0},{"x":"BedroomAbvGr","y":"MiscVal","r":0.01},{"x":"KitchenAbvGr","y":"MiscVal","r":0.06},{"x":"TotRmsAbvGrd","y":"MiscVal","r":0.02},{"x":"Fireplaces","y":"MiscVal","r":0},{"x":"GarageYrBlt","y":"MiscVal","r":-0.03},{"x":"GarageCars","y":"MiscVal","r":-0.04},{"x":"GarageArea","y":"MiscVal","r":-0.03},{"x":"WoodDeckSF","y":"MiscVal","r":-0.01},{"x":"OpenPorchSF","y":"MiscVal","r":-0.02},{"x":"EnclosedPorch","y":"MiscVal","r":0.02},{"x":"3SsnPorch","y":"MiscVal","r":0},{"x":"ScreenPorch","y":"MiscVal","r":0.03},{"x":"PoolArea","y":"MiscVal","r":0.03},{"x":"MiscVal","y":"MiscVal","r":1},{"x":"MoSold","y":"MiscVal","r":-0.01},{"x":"YrSold","y":"MiscVal","r":0},{"x":"SalePrice","y":"MiscVal","r":-0.02},
{"x":"Id","y":"MoSold","r":0.02},{"x":"MSSubClass","y":"MoSold","r":-0.01},{"x":"LotFrontage","y":"MoSold","r":0.01},{"x":"LotArea","y":"MoSold","r":0},{"x":"OverallQual","y":"MoSold","r":0.07},{"x":"OverallCond","y":"MoSold","r":0},{"x":"YearBuilt","y":"MoSold","r":0.01},{"x":"YearRemodAdd","y":"MoSold","r":0.02},{"x":"MasVnrArea","y":"MoSold","r":-0.01},{"x":"BsmtFinSF1","y":"MoSold","r":-0.02},{"x":"BsmtFinSF2","y":"MoSold","r":-0.02},{"x":"BsmtUnfSF","y":"MoSold","r":0.03},{"x":"TotalBsmtSF","y":"MoSold","r":0.01},{"x":"1stFlrSF","y":"MoSold","r":0.03},{"x":"2ndFlrSF","y":"MoSold","r":0.04},{"x":"LowQualFinSF","y":"MoSold","r":-0.02},{"x":"GrLivArea","y":"MoSold","r":0.05},{"x":"BsmtFullBath","y":"MoSold","r":-0.03},{"x":"BsmtHalfBath","y":"MoSold","r":0.03},{"x":"FullBath","y":"MoSold","r":0.06},{"x":"HalfBath","y":"MoSold","r":-0.01},{"x":"BedroomAbvGr","y":"MoSold","r":0.05},{"x":"KitchenAbvGr","y":"MoSold","r":0.03},{"x":"TotRmsAbvGrd","y":"MoSold","r":0.04},{"x":"Fireplaces","y":"MoSold","r":0.05},{"x":"GarageYrBlt","y":"MoSold","r":0.01},{"x":"GarageCars","y":"MoSold","r":0.04},{"x":"GarageArea","y":"MoSold","r":0.03},{"x":"WoodDeckSF","y":"MoSold","r":0.02},{"x":"OpenPorchSF","y":"MoSold","r":0.07},{"x":"EnclosedPorch","y":"MoSold","r":-0.03},{"x":"3SsnPorch","y":"MoSold","r":0.03},{"x":"ScreenPorch","y":"MoSold","r":0.02},{"x":"PoolArea","y":"MoSold","r":-0.03},{"x":"MiscVal","y":"MoSold","r":-0.01},{"x":"MoSold","y":"MoSold","r":1},{"x":"YrSold","y":"MoSold","r":-0.15},{"x":"SalePrice","y":"MoSold","r":0.05},
{"x":"Id","y":"YrSold","r":0},{"x":"MSSubClass","y":"YrSold","r":-0.02},{"x":"LotFrontage","y":"YrSold","r":0.01},{"x":"LotArea","y":"YrSold","r":-0.01},{"x":"OverallQual","y":"YrSold","r":-0.03},{"x":"OverallCond","y":"YrSold","r":0.04},{"x":"YearBuilt","y":"YrSold","r":-0.01},{"x":"YearRemodAdd","y":"YrSold","r":0.04},{"x":"MasVnrArea","y":"YrSold","r":-0.01},{"x":"BsmtFinSF1","y":"YrSold","r":0.01},{"x":"BsmtFinSF2","y":"YrSold","r":0.03},{"x":"BsmtUnfSF","y":"YrSold","r":-0.04},{"x":"TotalBsmtSF","y":"YrSold","r":-0.01},{"x":"1stFlrSF","y":"YrSold","r":-0.01},{"x":"2ndFlrSF","y":"YrSold","r":-0.03},{"x":"LowQualFinSF","y":"YrSold","r":-0.03},{"x":"GrLivArea","y":"YrSold","r":-0.04},{"x":"BsmtFullBath","y":"YrSold","r":0.07},{"x":"BsmtHalfBath","y":"YrSold","r":-0.05},{"x":"FullBath","y":"YrSold","r":-0.02},{"x":"HalfBath","y":"YrSold","r":-0.01},{"x":"BedroomAbvGr","y":"YrSold","r":-0.04},{"x":"KitchenAbvGr","y":"YrSold","r":0.03},{"x":"TotRmsAbvGrd","y":"YrSold","r":-0.03},{"x":"Fireplaces","y":"YrSold","r":-0.02},{"x":"GarageYrBlt","y":"YrSold","r":0},{"x":"GarageCars","y":"YrSold","r":-0.04},{"x":"GarageArea","y":"YrSold","r":-0.03},{"x":"WoodDeckSF","y":"YrSold","r":0.02},{"x":"OpenPorchSF","y":"YrSold","r":-0.06},{"x":"EnclosedPorch","y":"YrSold","r":-0.01},{"x":"3SsnPorch","y":"YrSold","r":0.02},{"x":"ScreenPorch","y":"YrSold","r":0.01},{"x":"PoolArea","y":"YrSold","r":-0.06},{"x":"MiscVal","y":"YrSold","r":0},{"x":"MoSold","y":"YrSold","r":-0.15},{"x":"YrSold","y":"YrSold","r":1},{"x":"SalePrice","y":"YrSold","r":-0.03},
{"x":"Id","y":"SalePrice","r":-0.02},{"x":"MSSubClass","y":"SalePrice","r":-0.08},{"x":"LotFrontage","y":"SalePrice","r":0.35},{"x":"LotArea","y":"SalePrice","r":0.26},{"x":"OverallQual","y":"SalePrice","r":0.79},{"x":"OverallCond","y":"SalePrice","r":-0.08},{"x":"YearBuilt","y":"SalePrice","r":0.52},{"x":"YearRemodAdd","y":"SalePrice","r":0.51},{"x":"MasVnrArea","y":"SalePrice","r":0.48},{"x":"BsmtFinSF1","y":"SalePrice","r":0.39},{"x":"BsmtFinSF2","y":"SalePrice","r":-0.01},{"x":"BsmtUnfSF","y":"SalePrice","r":0.21},{"x":"TotalBsmtSF","y":"SalePrice","r":0.61},{"x":"1stFlrSF","y":"SalePrice","r":0.61},{"x":"2ndFlrSF","y":"SalePrice","r":0.32},{"x":"LowQualFinSF","y":"SalePrice","r":-0.03},{"x":"GrLivArea","y":"SalePrice","r":0.71},{"x":"BsmtFullBath","y":"SalePrice","r":0.23},{"x":"BsmtHalfBath","y":"SalePrice","r":-0.02},{"x":"FullBath","y":"SalePrice","r":0.56},{"x":"HalfBath","y":"SalePrice","r":0.28},{"x":"BedroomAbvGr","y":"SalePrice","r":0.17},{"x":"KitchenAbvGr","y":"SalePrice","r":-0.14},{"x":"TotRmsAbvGrd","y":"SalePrice","r":0.53},{"x":"Fireplaces","y":"SalePrice","r":0.47},{"x":"GarageYrBlt","y":"SalePrice","r":0.49},{"x":"GarageCars","y":"SalePrice","r":0.64},{"x":"GarageArea","y":"SalePrice","r":0.62},{"x":"WoodDeckSF","y":"SalePrice","r":0.32},{"x":"OpenPorchSF","y":"SalePrice","r":0.32},{"x":"EnclosedPorch","y":"SalePrice","r":-0.13},{"x":"3SsnPorch","y":"SalePrice","r":0.04},{"x":"ScreenPorch","y":"SalePrice","r":0.11},{"x":"PoolArea","y":"SalePrice","r":0.09},{"x":"MiscVal","y":"SalePrice","r":-0.02},{"x":"MoSold","y":"SalePrice","r":0.05},{"x":"YrSold","y":"SalePrice","r":-0.03},{"x":"SalePrice","y":"SalePrice","r":1}
]},"mark":{"type":"rect"},"encoding":{"x":{"field":"x","type":"nominal","sort":null,"scale":{"domain":["Id","MSSubClass","LotFrontage","LotArea","OverallQual","OverallCond","YearBuilt","YearRemodAdd","MasVnrArea","BsmtFinSF1","BsmtFinSF2","BsmtUnfSF","TotalBsmtSF","1stFlrSF","2ndFlrSF","LowQualFinSF","GrLivArea","BsmtFullBath","BsmtHalfBath","FullBath","HalfBath","BedroomAbvGr","KitchenAbvGr","TotRmsAbvGrd","Fireplaces","GarageYrBlt","GarageCars","GarageArea","WoodDeckSF","OpenPorchSF","EnclosedPorch","3SsnPorch","ScreenPorch","PoolArea","MiscVal","MoSold","YrSold","SalePrice"],"paddingInner":0,"paddingOuter":0},"axis":{"title":null,"domain":false,"labelAngle":-90,"labelFontSize":10,"labelColor":"#000","tickColor":"#000","tickSize":3.5,"labelPadding":5,"labelOverlap":false,"labelBaseline":"middle","labelAlign":"right"}},"y":{"field":"y","type":"nominal","sort":null,"scale":{"domain":["Id","MSSubClass","LotFrontage","LotArea","OverallQual","OverallCond","YearBuilt","YearRemodAdd","MasVnrArea","BsmtFinSF1","BsmtFinSF2","BsmtUnfSF","TotalBsmtSF","1stFlrSF","2ndFlrSF","LowQualFinSF","GrLivArea","BsmtFullBath","BsmtHalfBath","FullBath","HalfBath","BedroomAbvGr","KitchenAbvGr","TotRmsAbvGrd","Fireplaces","GarageYrBlt","GarageCars","GarageArea","WoodDeckSF","OpenPorchSF","EnclosedPorch","3SsnPorch","ScreenPorch","PoolArea","MiscVal","MoSold","YrSold","SalePrice"],"paddingInner":0,"paddingOuter":0},"axis":{"title":null,"domain":false,"labelFontSize":10,"labelColor":"#000","tickColor":"#000","tickSize":3.5,"labelPadding":4.5,"labelOverlap":false}},"color":{"field":"r","type":"quantitative","scale":{"domain":[-0.495,-0.31,-0.125,0.06,0.245,0.43,0.615,0.8],"range":["#03051a","#35193e","#701f57","#ad1759","#e13342","#f37651","#f6b48f","#faebdd"],"clamp":true},"legend":{"title":null,"orient":"none","legendX":522,"legendY":0,"gradientLength":489,"gradientThickness":24,"values":[-0.25,0,0.25,0.5,0.75],"format":".2f","labelFontSize":10,"labelColor":"#000","labelOffset":8}}}}
